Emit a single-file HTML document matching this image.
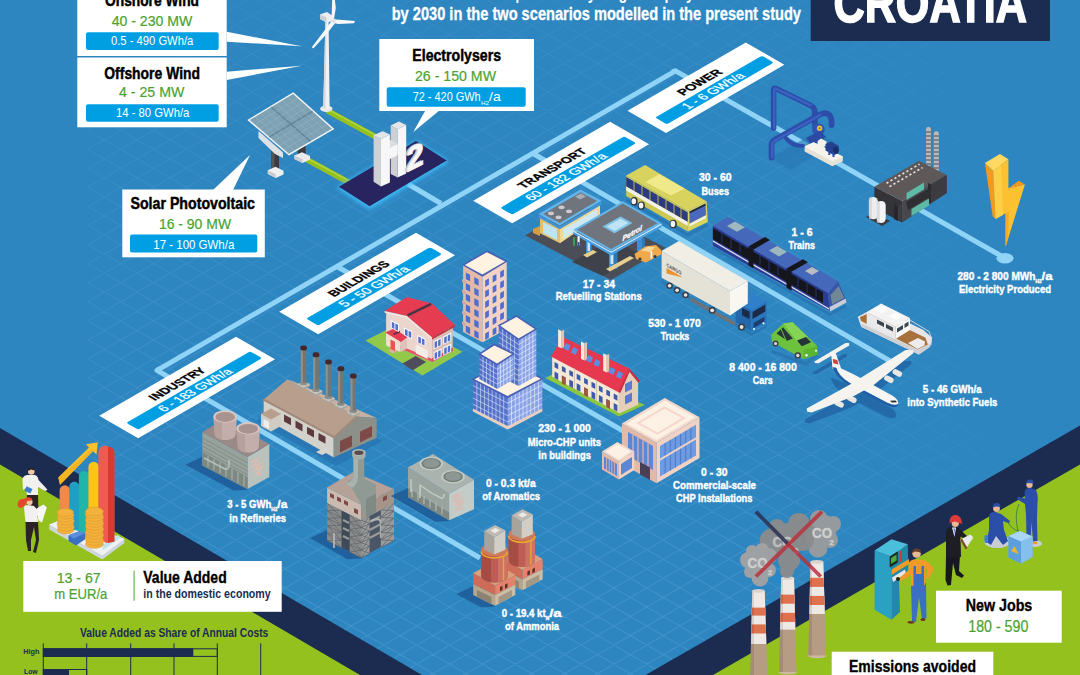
<!DOCTYPE html>
<html><head><meta charset="utf-8"><title>Hydrogen Croatia</title>
<style>
html,body{margin:0;padding:0;background:#2e86c1;}
body{width:1080px;height:675px;overflow:hidden;}
svg{display:block;font-family:"Liberation Sans",sans-serif;}
.b{font-weight:bold}
.w{fill:#fff}
.g{fill:#4aa32e;stroke:#4aa32e;stroke-width:.2px}
.pipe{fill:none;stroke:#8fd3f7;stroke-width:5;stroke-linejoin:round;stroke-linecap:butt}
</style></head><body>
<svg width="1080" height="675" viewBox="0 0 1080 675">
<!-- 00_bg.svg -->
<rect width="1080" height="675" fill="#2e86c1"/>
<defs>
<linearGradient id="gv" x1="0" y1="0" x2="0" y2="1"><stop offset="0" stop-color="#fff" stop-opacity="0.05"/><stop offset="0.37" stop-color="#fff" stop-opacity="0.095"/><stop offset="0.67" stop-color="#fff" stop-opacity="0.125"/><stop offset="1" stop-color="#fff" stop-opacity="0.145"/></linearGradient>
<linearGradient id="gh" x1="0" y1="0" x2="1" y2="0"><stop offset="0" stop-color="#fff" stop-opacity="0.75"/><stop offset="0.08" stop-color="#fff" stop-opacity="1"/><stop offset="0.72" stop-color="#fff" stop-opacity="1"/><stop offset="0.88" stop-color="#fff" stop-opacity="0.55"/><stop offset="1" stop-color="#fff" stop-opacity="0.15"/></linearGradient>
<mask id="mv" maskUnits="userSpaceOnUse" x="0" y="0" width="1080" height="675"><rect x="0" y="0" width="1080" height="675" fill="url(#gv)"/></mask>
<mask id="mh" maskUnits="userSpaceOnUse" x="88" y="0" width="905" height="675"><rect x="88" y="0" width="905" height="675" fill="url(#gh)"/></mask>
</defs>
<g mask="url(#mv)"><g mask="url(#mh)"><path d="M88 -518.2L993 6.7M88 -499.1L993 25.8M88 -480.0L993 44.9M88 -460.9L993 64.0M88 -441.9L993 83.0M88 -422.8L993 102.1M88 -403.7L993 121.2M88 -384.7L993 140.2M88 -365.6L993 159.3M88 -346.5L993 178.4M88 -327.5L993 197.4M88 -308.4L993 216.5M88 -289.3L993 235.6M88 -270.2L993 254.7M88 -251.2L993 273.7M88 -232.1L993 292.8M88 -213.0L993 311.9M88 -194.0L993 330.9M88 -174.9L993 350.0M88 -155.8L993 369.1M88 -136.8L993 388.1M88 -117.7L993 407.2M88 -98.6L993 426.3M88 -79.5L993 445.4M88 -60.5L993 464.4M88 -41.4L993 483.5M88 -22.3L993 502.6M88 -3.3L993 521.6M88 15.8L993 540.7M88 34.9L993 559.8M88 53.9L993 578.8M88 73.0L993 597.9M88 92.1L993 617.0M88 111.2L993 636.1M88 130.2L993 655.1M88 149.3L993 674.2M88 168.4L993 693.3M88 187.4L993 712.3M88 206.5L993 731.4M88 225.6L993 750.5M88 244.6L993 769.5M88 263.7L993 788.6M88 282.8L993 807.7M88 301.9L993 826.8M88 320.9L993 845.8M88 340.0L993 864.9M88 359.1L993 884.0M88 378.1L993 903.0M88 397.2L993 922.1M88 416.3L993 941.2M88 435.3L993 960.2M88 454.4L993 979.3M88 473.5L993 998.4M88 492.6L993 1017.5M88 511.6L993 1036.5M88 530.7L993 1055.6M88 549.8L993 1074.7M88 568.8L993 1093.7M88 587.9L993 1112.8M88 607.0L993 1131.9M88 626.0L993 1150.9M88 645.1L993 1170.0M88 664.2L993 1189.1M88 15.7L993 -509.2M88 34.7L993 -490.1M88 53.8L993 -471.1M88 72.9L993 -452.0M88 92.0L993 -432.9M88 111.0L993 -413.9M88 130.1L993 -394.8M88 149.2L993 -375.7M88 168.2L993 -356.7M88 187.3L993 -337.6M88 206.4L993 -318.5M88 225.4L993 -299.5M88 244.5L993 -280.4M88 263.6L993 -261.3M88 282.7L993 -242.2M88 301.7L993 -223.2M88 320.8L993 -204.1M88 339.9L993 -185.0M88 358.9L993 -166.0M88 378.0L993 -146.9M88 397.1L993 -127.8M88 416.1L993 -108.8M88 435.2L993 -89.7M88 454.3L993 -70.6M88 473.4L993 -51.5M88 492.4L993 -32.5M88 511.5L993 -13.4M88 530.6L993 5.7M88 549.6L993 24.7M88 568.7L993 43.8M88 587.8L993 62.9M88 606.9L993 82.0M88 625.9L993 101.0M88 645.0L993 120.1M88 664.1L993 139.2M88 683.1L993 158.2M88 702.2L993 177.3M88 721.3L993 196.4M88 740.3L993 215.4M88 759.4L993 234.5M88 778.5L993 253.6M88 797.6L993 272.7M88 816.6L993 291.7M88 835.7L993 310.8M88 854.8L993 329.9M88 873.8L993 348.9M88 892.9L993 368.0M88 912.0L993 387.1M88 931.0L993 406.1M88 950.1L993 425.2M88 969.2L993 444.3M88 988.3L993 463.4M88 1007.3L993 482.4M88 1026.4L993 501.5M88 1045.5L993 520.6M88 1064.5L993 539.6M88 1083.6L993 558.7M88 1102.7L993 577.8M88 1121.7L993 596.8M88 1140.8L993 615.9M88 1159.9L993 635.0M88 1179.0L993 654.1M88 1198.0L993 673.1" stroke="#a9dcfb" stroke-width="1.15" fill="none"/></g></g>
<!-- bottom-left bands -->
<polygon points="0,428 422,675 0,675" fill="#1b2c50"/>
<polygon points="0,464.4 360,675 0,675" fill="#95c11f"/>
<!-- bottom-right bands -->
<polygon points="1080,425.6 645.5,675 1080,675" fill="#1b2c50"/>
<polygon points="1080,464.4 713,675 1080,675" fill="#95c11f"/>

<!-- 10_pipes.svg -->
<g class="pipe">
<!-- trunk -->
<path d="M675.5 70.8 L157 370.4"/>
<!-- power line -->
<path d="M672 72 L675.5 70.8 L1003 257"/>
<!-- industry line -->
<path d="M160 368.6 L157 370.4 L480 558"/>
<!-- transport branch -->
<path d="M533 153.5 L890 361"/>
<!-- buildings branch -->
<path d="M337 266.5 L625 432"/>
<!-- h2 connector -->
<path d="M408 184 L441 203.5"/>
</g>
<ellipse cx="1005" cy="258.3" rx="8.5" ry="5.2" fill="#8fd3f7"/>
<!-- green cables -->
<g fill="none" stroke-linecap="butt">
<path d="M327 110.5 L375 136.5" stroke="#95c11f" stroke-width="5.6"/>
<path d="M327.6 109.3 L375.6 135.3" stroke="#b9d840" stroke-width="1.2"/>
<path d="M304.5 158.3 L350 183" stroke="#95c11f" stroke-width="5.6"/>
<path d="M305.1 157.1 L350.6 181.8" stroke="#b9d840" stroke-width="1.2"/>
</g>
<!-- H2 platform -->
<defs><filter id="glow" x="-20%" y="-20%" width="140%" height="140%"><feGaussianBlur stdDeviation="2.2"/></filter></defs>
<polygon points="337,187.5 369.6,209.5 449,161.5 416,141" fill="#3fc4ff" opacity="0.9" filter="url(#glow)"/>
<polygon points="338.9,186.7 369.6,206.2 446.7,160.4 416,140.9" fill="#27245f"/>

<!-- 20_labels.svg -->
<defs>
<g id="lab">
<rect x="0" y="0" width="158" height="45" fill="#fff"/>
<rect x="8.6" y="22.6" width="143" height="13.8" rx="2.2" fill="#009fe3"/>
</g>
</defs>
<!-- POWER (shorter) -->
<g transform="matrix(0.866,-0.5,0.866,0.5,627.5,110.8)">
<rect x="0" y="0" width="136.6" height="44.5" fill="#fff"/>
<rect x="9.2" y="22.6" width="123.5" height="13.6" rx="2.2" fill="#009fe3"/>
<text class="b" stroke="#000" stroke-width="0.35" x="47" y="17.3" font-size="12.3" textLength="46.5" lengthAdjust="spacingAndGlyphs">POWER</text>
<text class="w" stroke="#fff" stroke-width="0.25" x="36" y="33.8" font-size="12.6" textLength="67" lengthAdjust="spacingAndGlyphs">1 - 6 GWh/a</text>
</g>
<g transform="matrix(0.866,-0.5,0.866,0.5,473.3,200.8)">
<use href="#lab"/>
<text class="b" stroke="#000" stroke-width="0.35" x="41" y="17.3" font-size="12.3" textLength="74" lengthAdjust="spacingAndGlyphs">TRANSPORT</text>
<text class="w" stroke="#fff" stroke-width="0.25" x="33" y="33.8" font-size="12.6" textLength="89" lengthAdjust="spacingAndGlyphs">60 - 182 GWh/a</text>
</g>
<g transform="matrix(0.866,-0.5,0.866,0.5,279.2,311.7)">
<use href="#lab"/>
<text class="b" stroke="#000" stroke-width="0.35" x="46" y="17.3" font-size="12.3" textLength="65.5" lengthAdjust="spacingAndGlyphs">BUILDINGS</text>
<text class="w" stroke="#fff" stroke-width="0.25" x="42" y="33.8" font-size="12.6" textLength="76" lengthAdjust="spacingAndGlyphs">5 - 50 GWh/a</text>
</g>
<g transform="matrix(0.866,-0.5,0.866,0.5,99.2,415.8)">
<use href="#lab"/>
<text class="b" stroke="#000" stroke-width="0.35" x="47" y="17.3" font-size="12.3" textLength="60" lengthAdjust="spacingAndGlyphs">INDUSTRY</text>
<text class="w" stroke="#fff" stroke-width="0.25" x="41" y="33.8" font-size="12.6" textLength="80.5" lengthAdjust="spacingAndGlyphs">6 - 183 GWh/a</text>
</g>

<!-- 30_boxes.svg -->
<!-- Onshore / Offshore boxes -->
<rect x="77.3" y="-2" width="149.4" height="58" fill="#fff"/>
<rect x="77.3" y="57.5" width="149.4" height="69.8" fill="#fff"/>
<polygon points="226.7,31.7 226.7,41.7 301.7,46.3" fill="#fff"/>
<polygon points="226.7,71.7 226.7,80 301.7,65.7" fill="#fff"/>
<rect x="86" y="32.3" width="132.7" height="17.7" rx="2" fill="#009fe3"/>
<rect x="86" y="104.3" width="132.7" height="17.4" rx="2" fill="#009fe3"/>
<text class="b" x="105" y="5.7" font-size="16.6" textLength="94" lengthAdjust="spacingAndGlyphs" stroke="#000" stroke-width="0.45">Onshore Wind</text>
<text class="g" x="111.7" y="26" font-size="15.4" textLength="80.6" lengthAdjust="spacingAndGlyphs">40 - 230 MW</text>
<text class="w" x="111" y="45.4" font-size="13.5" textLength="82.3" lengthAdjust="spacingAndGlyphs">0.5 - 490 GWh/a</text>
<text class="b" x="104.3" y="79" font-size="16.6" textLength="95.7" lengthAdjust="spacingAndGlyphs" stroke="#000" stroke-width="0.45">Offshore Wind</text>
<text class="g" x="119" y="97.3" font-size="15.4" textLength="65.3" lengthAdjust="spacingAndGlyphs">4 - 25 MW</text>
<text class="w" x="116" y="117.4" font-size="13.5" textLength="73.3" lengthAdjust="spacingAndGlyphs">14 - 80 GWh/a</text>
<!-- Solar PV box -->
<polygon points="213,190 233,190 250,155" fill="#fff"/>
<rect x="122.3" y="189.5" width="142.5" height="67.8" fill="#fff"/>
<rect x="130" y="234.4" width="127.3" height="18.2" rx="2" fill="#009fe3"/>
<text class="b" x="130.5" y="208.9" font-size="16.4" textLength="124.5" lengthAdjust="spacingAndGlyphs" stroke="#000" stroke-width="0.45">Solar Photovoltaic</text>
<text class="g" x="158.9" y="228.9" font-size="15.4" textLength="72.2" lengthAdjust="spacingAndGlyphs">16 - 90 MW</text>
<text class="w" x="153.3" y="248.9" font-size="13.5" textLength="81" lengthAdjust="spacingAndGlyphs">17 - 100 GWh/a</text>
<!-- Electrolysers box -->
<polygon points="425.6,110 440,110 413.3,132" fill="#fff"/>
<rect x="379.3" y="39" width="154.7" height="72" fill="#fff"/>
<rect x="386.7" y="87.3" width="139" height="19.4" rx="2" fill="#009fe3"/>
<text class="b" x="412.3" y="61" font-size="16.4" textLength="88.7" lengthAdjust="spacingAndGlyphs" stroke="#000" stroke-width="0.45">Electrolysers</text>
<text class="g" x="415" y="80.7" font-size="15.4" textLength="81" lengthAdjust="spacingAndGlyphs">26 - 150 MW</text>
<text class="w" x="412.7" y="101" font-size="13.5" textLength="68" lengthAdjust="spacingAndGlyphs">72 - 420 GWh</text>
<text class="w" x="481" y="104.5" font-size="6" textLength="8" lengthAdjust="spacingAndGlyphs">H2</text>
<text class="w" x="489" y="101" font-size="13.5" textLength="11.7" lengthAdjust="spacingAndGlyphs">/a</text>
<!-- Title -->
<text class="w b" x="391.7" y="20" font-size="17.6" stroke="#fff" stroke-width="0.3" textLength="409.3" lengthAdjust="spacingAndGlyphs">by 2030 in the two scenarios modelled in the present study</text>
<!-- CROATIA -->
<rect x="810.7" y="-2" width="239.3" height="43" fill="#1b2c50"/>
<text class="w b" x="833.5" y="21.9" font-size="55" stroke="#fff" stroke-width="1.6" textLength="193.5" lengthAdjust="spacingAndGlyphs">CROATIA</text>
<!-- cut-off first title line (descenders only) -->
<text class="w b" x="579" y="-0.7" font-size="17.6" textLength="149" lengthAdjust="spacingAndGlyphs">hydrogen deployment</text>
<text class="w b" x="515.5" y="-0.7" font-size="17.6" textLength="8" lengthAdjust="spacingAndGlyphs">p</text>

<!-- 40_energy.svg -->
<!-- wind turbine -->
<g>
<ellipse cx="326.3" cy="108.8" rx="6.2" ry="3.2" fill="#e9eaec"/>
<polygon points="323.2,108.5 329.6,108.5 328.6,22 325.4,22" fill="#f1f2f3"/>
<polygon points="323.2,108.5 325.4,108.8 326.6,22 325.4,22" fill="#d5d9de"/>
<polygon points="320,14.5 327,12 333.5,16.5 333.5,21 326.5,22.5 320,19" fill="#eceef0"/>
<polygon points="320,14.5 326.5,17.5 326.5,22.5 320,19" fill="#c9ced4"/>
<polygon points="334,19 335.8,8 334.8,-1 332.2,-1 331.6,17" fill="#f7f8f9"/>
<polygon points="334,19.3 340,19.8 355,21 354,23.3 338,24 334,23" fill="#f7f8f9"/>
<polygon points="331.5,21 335,23.3 327,33.5 313.3,48.5 311.8,47.3 324.5,30.5" fill="#f7f8f9"/>
<circle cx="333.8" cy="20.6" r="2.1" fill="#dfe2e6"/>
</g>
<!-- solar panel -->
<g>
<!-- rear post & base -->
<polygon points="297.8,146 305.6,146 305.6,155 297.8,155" fill="#3b3b3f"/>
<polygon points="294.4,155.5 302,152.2 310,156 310,159.5 302.5,163 294.4,159" fill="#e9eaec"/>
<polygon points="294.4,155.5 302.5,159.3 302.5,163 294.4,159" fill="#c9cdd2"/>
<!-- front post & base -->
<polygon points="271.3,146 279,149 279,170 271.3,170" fill="#3b3b3f"/>
<polygon points="271.3,146 274.5,147.2 274.5,170 271.3,170" fill="#55565b"/>
<polygon points="267.8,170.2 275.5,166.8 283.5,170.8 283.5,174.5 275.8,178 267.8,174" fill="#eeeff1"/>
<polygon points="267.8,170.2 275.8,174.3 275.8,178 267.8,174" fill="#c9cdd2"/>
<!-- mount -->
<polygon points="258.5,131 283,152.5 283,158 275,154 258.5,138" fill="#dfe1e4"/>
<!-- panel -->
<polygon points="247.3,120 293.3,92.2 334.4,128.9 288.9,155.6" fill="#f4f6f7"/>
<polygon points="249.6,120.1 293.1,94 332,128.8 288.9,153.7" fill="#7ea2b3"/>
<g stroke="#5f8597" stroke-width="1.3" fill="none">
<path d="M271.3,107 L310.4,141.3"/><path d="M269.3,137 L312.5,111.4"/>
</g>
<g stroke="#9dbccb" stroke-width="0.5" fill="none" opacity="0.8">
<path d="M260.4,113.5 L299.6,147.5M282.2,100.5 L321.2,135"/>
<path d="M259.4,128.6 L302.8,102.7M279.1,145.4 L322.2,120.1"/>
<path d="M255,116.8 L294.2,150.9M265.8,110.2 L305,144.4M276.7,103.8 L315.8,138.1M287.6,97.2 L326.6,131.9"/>
<path d="M254.5,124.4 L298,98.4M264.3,132.8 L307.6,107M274.2,141.2 L317.4,115.8M284,149.6 L327.1,124.4"/>
</g>
</g>
<!-- H2 letters -->
<g>
<!-- right pillar -->
<polygon points="390.7,125.5 397.6,129.2 397.6,177.6 390.7,174" fill="#cfd0d3"/>
<polygon points="397.6,129.2 406.2,125 406.2,173.6 397.6,177.6" fill="#f7f7f8"/>
<polygon points="390.7,125.5 398.9,121.4 406.2,125 397.6,129.2" fill="#e4e5e7"/>
<!-- crossbar -->
<polygon points="383,151 390.5,147.3 397.6,143.9 397.6,155.3 389.9,158.9" fill="#f7f7f8"/>
<polygon points="382,144 390.7,140 397.6,143.9 389.9,147.5" fill="#dcdde0"/>
<!-- left pillar -->
<polygon points="373.6,135.3 381,139 381,186.6 373.6,181.7" fill="#cfd0d3"/>
<polygon points="381,139 389.9,134.4 389.9,182.5 381,186.6" fill="#f7f7f8"/>
<polygon points="373.6,135.3 382.6,131.2 389.9,134.4 381,139" fill="#e4e5e7"/>
<!-- 2 -->
<g transform="matrix(1,-0.5,0,1,404.6,172.6)">
<text x="0" y="0" font-size="33" font-weight="bold" fill="#c9cacd" stroke="#c9cacd" stroke-width="0.8" textLength="17.5" lengthAdjust="spacingAndGlyphs">2</text>
</g>
<g transform="matrix(1,-0.5,0,1,406.4,172.6)">
<text x="0" y="0" font-size="33" font-weight="bold" fill="#f7f7f8" stroke="#f7f7f8" stroke-width="0.8" textLength="17.5" lengthAdjust="spacingAndGlyphs">2</text>
</g>
</g>

<!-- 50_power.svg -->
<!-- blue pump -->
<g>
<!-- shadows -->
<polygon points="770,158 790,170 836,143 816,132" fill="#2776b0" opacity="0.6"/>
<g fill="none" stroke-linejoin="round" stroke-linecap="round">
<path d="M773.6 128 L773.6 90 Q773.6 87.5 776 88.6 L811 105.8 Q814.5 107.6 814.7 111 L815 126" stroke="#2c4da8" stroke-width="5.6"/>
<path d="M774.2 128 L774.2 90 Q774.2 88 776.4 88.8 L811 105.3" stroke="#3b62c2" stroke-width="2.4"/>
<path d="M771.5 157.5 L771.5 145 Q771.5 141.8 774.5 140 L820 114.5 Q826 111.5 829.5 115 Q831.8 117.5 831.6 125" stroke="#2c4da8" stroke-width="5.8"/>
<path d="M772.2 157 L772.2 145 Q772.2 142.4 775 140.6 L820 115" stroke="#3b62c2" stroke-width="2.4"/>
<path d="M786 138 Q791 146 803 146" stroke="#2c4da8" stroke-width="4.2"/>
</g>
<circle cx="818.4" cy="129.5" r="6.3" fill="#2f54b0"/>
<circle cx="819.6" cy="128.2" r="2.7" fill="#e2c04a"/>
<circle cx="819.6" cy="128.2" r="1" fill="#8a7428"/>
<polygon points="806,138 820,131 826,137 812,146" fill="#2a4aa3"/>
<!-- base slab -->
<polygon points="804.6,146.6 813.6,142.3 842.9,156.4 842.9,161.3 832.3,166.2 804.6,151.5" fill="#e7e2d8"/>
<polygon points="804.6,146.6 813.6,142.3 842.9,156.4 832.3,161.3" fill="#f6f3ec"/>
<!-- shaft & motor -->
<polygon points="817.6,141 821,138.6 826.5,141.4 826.5,145.4 823,147.2 817.6,144.4" fill="#f3f1ea"/>
<polygon points="825.5,144 831,141.5 838.8,146 838.8,152.5 834,155.3 825.5,150.6" fill="#24418f"/>
<ellipse cx="835.8" cy="150.3" rx="2.7" ry="3.6" fill="#1b2f6b"/>
<rect x="828.3" y="150" width="2" height="5" fill="#2a4aa3"/>
<rect x="832.5" y="152" width="2" height="5" fill="#2a4aa3"/>
</g>
<!-- power plant -->
<g>
<polygon points="866,217 874,212.5 890,221 882,226" fill="#3b3b40"/>
<!-- chimneys -->
<rect x="926" y="127" width="5" height="39" rx="2.2" fill="#b9b9bc"/>
<rect x="933.8" y="131.2" width="5" height="41.5" rx="2.2" fill="#b9b9bc"/>
<g stroke="#6f6f74" stroke-width="1.3">
<path d="M926 132h5M926 136h5M926 140h5M926 144h5M926 148h5M926 152h5M926 156h5M926 160h5M926 164h5"/>
<path d="M933.8 136h5M933.8 140h5M933.8 144h5M933.8 148h5M933.8 152h5M933.8 156h5M933.8 160h5M933.8 164h5M933.8 168h5"/>
</g>
<!-- body -->
<polygon points="874.4,186.7 902.2,201.1 902.2,222.5 874.4,208" fill="#343438"/>
<polygon points="902.2,201.1 946.7,175.1 946.7,193 902.2,222.5" fill="#47474c"/>
<polygon points="874.4,186.7 918.9,160.7 946.7,175.1 902.2,201.1" fill="#5e5859"/>
<!-- right block -->
<polygon points="931,184.3 946.7,175.1 946.7,193 931,203" fill="#3b3b40"/>
<polygon points="928,183 931,184.5 931,203.5 928,202" fill="#2b2b2f"/>
<!-- pillars -->
<polygon points="894,204 898,206 898,221 894,219" fill="#27272b"/>
<polygon points="898,206 901.5,204 901.5,219.5 898,221" fill="#3e3e43"/>
<!-- teal windows -->
<polygon points="906.5,193 924,182.5 924,189.5 906.5,200" fill="#5fb9a7"/>
<polygon points="911.5,209 929,198.5 929,205.5 911.5,216" fill="#5fb9a7"/>
<polygon points="906,202 929,188.5 931,190 931,196 908,210" fill="#2f2f33"/>
<!-- roof marks -->
<g stroke="#e9e6e4" stroke-width="1.6" stroke-dasharray="2.2 2.4" fill="none">
<path d="M886.5 183.2 L919.5 164.2"/>
<path d="M889.5 186.6 L922.5 167.6"/>
</g>
<!-- tanks -->
<rect x="868.9" y="197" width="9" height="22.3" rx="4.4" fill="#ecedee"/>
<rect x="868.9" y="197" width="3" height="22.3" rx="1.5" fill="#cfd1d4" opacity="0.7"/>
<rect x="876.7" y="201" width="9" height="22" rx="4.4" fill="#f3f4f5"/>
<rect x="876.7" y="201" width="3" height="22" rx="1.5" fill="#cfd1d4" opacity="0.7"/>
</g>
<!-- lightning -->
<g>
<polygon points="984.9,162.9 993.3,171.1 995.6,218.9 992.7,216.2" fill="#f39a1e"/>
<polygon points="984.9,162.9 1000,154 1008.4,159.3 993.3,171.1" fill="#ffd960"/>
<polygon points="993.3,171.1 1008.4,159.3 1008.4,188.2 1024.9,184.4 1005.6,246.7 1005.6,213.3 995.6,218.9" fill="#fbc130"/>
<polygon points="1008.4,188.2 1018.9,180.7 1024.9,184.4" fill="#f39a1e"/>
<polygon points="993.3,171.1 1001,165.1 1003,215 995.6,218.9" fill="#fdd24f" opacity="0.8"/>
<polygon points="1005.6,213.3 1009,211.5 1008,238 1005.6,246.7" fill="#f7ab25"/>
</g>

<!-- 60_transport.svg -->
<!-- fuel station -->
<g>
<polygon points="525.1,235.6 579.7,203.4 665.6,247.8 611,280" fill="#4b4e57"/>
<polygon points="572,262 611,239 640,254 603,276" fill="#3f424a"/>
<!-- crates -->
<polygon points="533,229 540,226 540,236 533,233" fill="#d69a4a"/>
<!-- shop -->
<polygon points="540,216.7 560,226.7 560,243.3 540,233.3" fill="#e5bd6e"/>
<polygon points="560,226.7 600,203.3 600,216 560,243.3" fill="#f2d692"/>
<polygon points="543,222 557,229 557,240 543,233" fill="#bfe3ef"/>
<polygon points="563,229.5 597,209.5 597,216 563,239.5" fill="#cfe9f2"/>
<polygon points="538.5,213.9 580.5,189.4 601.8,200.8 559.8,225.8" fill="#62b6ec"/>
<polygon points="538.5,214.4 559.8,226.3 601.8,201.6 601.8,204.4 559.8,229.3 538.5,217.4" fill="#3f95d6"/>
<polygon points="543.2,214 580.6,192.2 597,200.9 559.8,222.9" fill="#70757d"/>
<g fill="#c9ccd2">
<ellipse cx="551" cy="213.3" rx="3" ry="1.9"/><ellipse cx="558.5" cy="217.3" rx="3" ry="1.9"/>
<ellipse cx="561.5" cy="207.3" rx="3" ry="1.9"/><ellipse cx="569" cy="211.3" rx="3" ry="1.9"/>
</g>
<polygon points="575,196.5 581,193.5 586,196.5 580,199.5" fill="#a9adb4"/>
<!-- canopy pillars -->
<g>
<rect x="586" y="238" width="5.5" height="17" fill="#3f8fd0"/><rect x="587.5" y="242" width="2.5" height="9" fill="#cde6f5"/>
<rect x="609" y="251" width="6" height="18" fill="#3f8fd0"/><rect x="614" y="251" width="3.5" height="18" fill="#2f78b8"/><rect x="610.5" y="255" width="2.8" height="9" fill="#cde6f5"/>
<rect x="637" y="238" width="5.5" height="13" fill="#3f8fd0"/><rect x="642" y="238" width="3" height="13" fill="#2f78b8"/>
<polygon points="583,255 593,250 597,252 587,257.5" fill="#e9cf8e"/>
<polygon points="606,269 630,256 634,258 610,271.5" fill="#e9cf8e"/>
</g>
<!-- canopy -->
<polygon points="573.3,230.6 611.1,251.7 661.5,223.8 661.5,227.3 611.1,255.5 573.3,234" fill="#4a9fdf"/><polygon points="573.3,230.4 611.1,251.4 661.5,223.5 661.5,224.8 611.1,252.8 573.3,231.7" fill="#d9eefb"/>
<polygon points="573.3,229.8 622.8,201.3 661.5,223.3 611.1,251.3" fill="#62b6ec"/>
<polygon points="577.3,229.8 622.8,203.6 657.5,223.3 611.2,249" fill="#70757d"/>
<polygon points="602.5,226.5 620.5,216.5 632.5,223 614.5,233.3" fill="#7fc4ea"/>
<polygon points="606.5,226.6 620.5,218.8 628.5,223 614.5,231" fill="#bfe3f5"/>
<g transform="matrix(0.866,-0.5,0,1,622.5,241.3)"><text x="0" y="0" font-size="7.4" font-weight="bold" font-style="italic" fill="#fff" stroke="#fff" stroke-width="0.3" textLength="22.5" lengthAdjust="spacingAndGlyphs">Petrol</text></g>
<!-- taxi -->
<polygon points="634.5,254 645,246.5 656,245 661,250 661,254.5 646,262.5 636,259" fill="#f0a94b"/>
<polygon points="641,250.5 648,246.5 655.5,247 650,252" fill="#f8d79a"/>
<circle cx="640" cy="259" r="1.6" fill="#3b3b40"/><circle cx="655" cy="256.5" r="1.6" fill="#3b3b40"/>
<!-- people -->
<rect x="573" y="237" width="2" height="9" rx="1" fill="#3f9d57"/><rect x="577.5" y="236" width="2.2" height="10" rx="1" fill="#f4f4f4"/><rect x="577.7" y="242" width="1.8" height="5" fill="#2b4f9a"/>
<rect x="650.5" y="251" width="1.8" height="8" rx="0.9" fill="#f4f4f4"/>
</g>
<!-- bus -->
<g>
<polygon points="626.2,198 687.8,233.6 707.8,223 707.8,226 688,236.5 626.2,201" fill="#2770ad" opacity="0.7"/>
<polygon points="626.2,175.6 687.8,211.1 687.8,231.6 626.2,196" fill="#cdc852"/>
<polygon points="626.2,177 687.8,212.5 687.8,222 626.2,186.5" fill="#2b3b7d"/>
<polygon points="626.2,186.5 687.8,222 687.8,226 626.2,190.5" fill="#f1f1ea"/>
<g stroke="#cdc852" stroke-width="0.9"><path d="M634 181v10M642 185.6v10M650 190.2v10M658 194.8v10M666 199.4v10M674 204v10M681 208v10"/></g>
<polygon points="687.8,211.1 706.7,201.6 707.8,222 687.8,231.6" fill="#d9d460"/>
<polygon points="689.5,212.8 705.5,204.8 706,215 689.5,223.5" fill="#4a68bd"/><polygon points="689.5,211.5 705.5,203.5 705.6,205.5 689.5,213.6" fill="#1f2340"/>
<polygon points="689.5,224 706,215.5 706,218 689.5,226.6" fill="#f1f1ea"/>
<polygon points="626.2,175.6 645.1,165.1 706.7,201.6 687.8,211.1" fill="#d8d35e"/>
<polygon points="645.5,181.9 659.1,174.2 684.6,188.4 670.9,195.6" fill="#efe98a"/>
<ellipse cx="634.2" cy="201.3" rx="3.4" ry="4.2" fill="#30313a"/><ellipse cx="633.8" cy="201.2" rx="2.3" ry="3" fill="#f4f4f4"/>
<ellipse cx="641.5" cy="205.6" rx="3.4" ry="4.2" fill="#30313a"/><ellipse cx="641.1" cy="205.5" rx="2.3" ry="3" fill="#f4f4f4"/>
<ellipse cx="673.3" cy="224" rx="3.5" ry="4.3" fill="#30313a"/><ellipse cx="672.9" cy="223.9" rx="2.4" ry="3.1" fill="#f4f4f4"/>
</g>
<!-- train -->
<g>
<polygon points="712.9,246 830,313 846,304.5 846,307 830,316 712.9,249" fill="#2770ad" opacity="0.7"/>
<polygon points="712.9,225.6 827.8,292.7 830,311 712.9,245.6" fill="#2c3c94"/>
<polygon points="712.9,228 823,292.3 823,303 712.9,239" fill="#15161c"/>
<polygon points="712.9,240.3 829,308.3 829,309.8 712.9,241.8" fill="#d9dde8"/>
<polygon points="827.8,292.7 838,281.3 846.5,301 830,311" fill="#3a55a8"/>
<polygon points="830.5,295 838.8,286 844.2,298 832,304.5" fill="#6f8796"/>
<polygon points="829.5,307 845.5,298.5 846.5,302.5 830,311.5" fill="#c9ccd6"/>
<polygon points="712.9,225.6 727.8,216.7 838,281.3 827.8,292.7" fill="#4668bb"/>
<polygon points="748.5,246.4 765,237 770,240 753.5,249.5" fill="#15161c"/>
<polygon points="748.5,246.4 753.5,249.5 753.5,268.5 748.5,265.5" fill="#15161c"/>
<polygon points="786.5,268.6 803,259.2 808,262.2 791.5,271.7" fill="#15161c"/>
<polygon points="786.5,268.6 791.5,271.7 791.5,290.7 786.5,287.7" fill="#15161c"/>
<polygon points="727,226 735,221.5 745,227.2 737,231.8" fill="#9db9bf"/>
<polygon points="769,250.6 777,246.1 787,251.8 779,256.4" fill="#9db9bf"/>
<polygon points="805,271 812,267 819,271 812,275" fill="#b9bcc2"/>
<g stroke="#27377c" stroke-width="0.9"><path d="M722 232v11M731 237.5v11M740 242.5v11M760 254v11M769 259.5v11M778 264.5v11M798 276.5v11M807 281.5v11M816 287v11"/></g>
</g>
<!-- truck -->
<g>
<polygon points="661.6,280 752,333 767,325 767,327.5 752,336 661.6,283" fill="#2770ad" opacity="0.7"/>
<polygon points="690,297 735,322 735,326 690,301" fill="#6f7278"/>
<polygon points="735.6,302.2 751.1,310 751.1,331.1 735.6,322" fill="#2467ab"/>
<polygon points="751.1,310 766.7,301.1 766.7,322.2 751.1,331.1" fill="#2a76bd"/>
<polygon points="735.6,302.2 751.1,293.3 766.7,301.1 751.1,310" fill="#2f80c9"/>
<polygon points="752.5,312 765.3,304.6 765.3,311.5 752.5,319" fill="#1b2b45"/>
<polygon points="742,308 749.5,311.8 749.5,319 742,315.2" fill="#1b2b45"/>
<polygon points="753.5,323 764.5,316.7 764.5,321.5 753.5,328" fill="#1e3f6e"/>
<polygon points="661.6,251.1 730,291.1 730,315.6 661.6,277.8" fill="#e4e2d7"/>
<polygon points="730,291.1 747.8,281.1 747.8,303.5 730,315.6" fill="#f8f7f1"/>
<polygon points="661.6,251.1 678.9,241.1 747.8,281.1 730,291.1" fill="#f0eee5"/>
<g transform="matrix(0.866,0.5,0,1,666.5,266.5)"><text x="0" y="0" font-size="5.2" font-weight="bold" fill="#4a4a4e" textLength="17" lengthAdjust="spacingAndGlyphs">CARGO</text><polygon points="0,1.5 19,1.5 0,7" fill="#e8912d"/></g>
<g fill="#3f4046"><circle cx="669.6" cy="285.8" r="3.3"/><circle cx="677.1" cy="290.2" r="3.3"/><circle cx="685.6" cy="295" r="3.3"/><circle cx="712.2" cy="310.3" r="3.5"/><circle cx="741.6" cy="327" r="3.6"/></g>
<g fill="#e9e9e9"><circle cx="669.6" cy="285.8" r="1.8"/><circle cx="677.1" cy="290.2" r="1.8"/><circle cx="685.6" cy="295" r="1.8"/><circle cx="712.2" cy="310.3" r="1.9"/><circle cx="741.6" cy="327" r="1.9"/></g>
<circle cx="763.5" cy="323.3" r="1" fill="#fff"/><circle cx="754" cy="329" r="1" fill="#fff"/>
</g>
<!-- car -->
<g>
<polygon points="772,350 806,362 818,352 818,356 806,366 772,353" fill="#2770ad" opacity="0.7"/>
<polygon points="771.2,334.5 783.5,323.5 792.5,322.3 816.8,345.5 817.8,354.5 803.5,359 783,348 771.8,341.5" fill="#6cc13d"/>
<polygon points="783.5,323.5 792.5,322.3 808,337 797,341.5" fill="#86d455"/>
<polygon points="776.5,333.5 783,327.3 792.8,338.6 787.3,340.8" fill="#26343a"/><path d="M781.2 329 L785.8 340.2" stroke="#6cc13d" stroke-width="1"/>
<polygon points="797,340.5 806,337 811,342.3 801.8,346.2" fill="#26343a"/>
<polygon points="803.5,350 817.3,346 817.8,354.5 803.5,359" fill="#5cb531"/>
<circle cx="775.6" cy="343.5" r="3" fill="#3f4046"/><circle cx="775.6" cy="343.5" r="1.6" fill="#d9d9d9"/>
<circle cx="797.8" cy="355.5" r="3.2" fill="#3f4046"/><circle cx="797.8" cy="355.5" r="1.7" fill="#d9d9d9"/>
<circle cx="806.5" cy="355.3" r="1.2" fill="#fff"/><circle cx="816" cy="350.8" r="1" fill="#fff"/>
</g>
<!-- boat -->
<g>
<polygon points="857.8,316.7 876.7,306.7 923.3,330 932.2,337.8 930,346.7 918.9,354.4 861.1,326.7" fill="#e6e6e8"/>
<polygon points="861.1,326.7 918.9,354.4 930,346.7 929,343.5 918.5,350 861.5,323.5" fill="#cfd0d4"/>
<polygon points="859.8,317.3 872.2,311.5 925.5,337.8 927.8,344.4 917.8,349.5 861,321" fill="#a8713b"/>
<polygon points="908,343 918,338 925,341.5 924.5,345.5 917.5,349" fill="#ececee"/>
<polygon points="866.7,312.2 895.6,326.7 895.6,338.9 866.7,324.4" fill="#e9e9eb"/>
<polygon points="895.6,326.7 910,318 910,330 895.6,338.9" fill="#f7f7f8"/>
<polygon points="866.7,312.2 881.1,303.6 910,318 895.6,326.7" fill="#f3f3f4"/>
<polygon points="875,309.5 882,305.5 889,309 882,313" fill="#fdfdfd"/><polygon points="889,316.5 896,312.5 903,316 896,320" fill="#fdfdfd"/>
<polygon points="877,319.5 884,323 884,327 877,323.5" fill="#3a4650"/><polygon points="886,324 893,327.5 893,331.5 886,328" fill="#3a4650"/>
<polygon points="897,328.5 903,325 903,329 897,332.5" fill="#3a4650"/><polygon points="904.5,324 908.5,321.6 908.5,325.6 904.5,328" fill="#3a4650"/>
<path d="M910 320 L929 331.5 L931.5 338 L931 345" fill="none" stroke="#d9dadd" stroke-width="0.9"/>
</g>
<!-- plane -->
<g>
<g transform="translate(-2,11)" fill="#2368a7" opacity="0.9">
<polygon points="806.7,408.5 850,384.5 905.5,350 913,350 913.5,353 873,385.5 853,396.5 811.5,412.5 807,411.5"/>
<path d="M832.5 367 Q836 378 850 386 L887 405.5 Q895 409 898 405.5 Q899.5 401.5 893 397 L856 376.5 Q842 369.5 837.5 368 Z"/>
<polygon points="814.4,361.5 845.5,343 849,343 849.3,345.5 818.5,363.3 815,363"/>
</g>
<!-- tail stabilizer -->
<polygon points="814.4,361.5 845.5,343 849,343 849.3,345.5 818.5,363.3 815,363" fill="#f2f1ec"/>
<!-- fin -->
<polygon points="831,352 835.5,352.5 842.5,372.5 832.5,368.5" fill="#f6f5f1"/>
<polygon points="832.8,359 837.3,360 838.5,364.5 833.3,363.3" fill="#c8473f"/>
<!-- fuselage -->
<path d="M832.5 367 Q836 378 850 386 L887 405.5 Q895 409 898 405.5 Q899.5 401.5 893 397 L856 376.5 Q842 369.5 837.5 368 Z" fill="#1f5ea6"/>
<path d="M836 366.5 Q842 368.5 856 375.5 L893 396 Q899.5 400.5 898 404 Q894 406 887 402.5 L850 383 Q838 376 836 366.5 Z" fill="#f6f5f1"/>
<polygon points="890,400.8 895.5,400.5 897,402.2 892,402.6" fill="#1e2a30"/>
<!-- engines -->
<g fill="#e8e7e2"><rect x="834" y="401" width="10" height="5.5" rx="2.7" transform="rotate(28 839 404)"/><rect x="847" y="396.5" width="10" height="5.5" rx="2.7" transform="rotate(28 852 399)"/>
<rect x="884" y="376.5" width="10" height="5.5" rx="2.7" transform="rotate(28 889 379)"/><rect x="892.5" y="370" width="10" height="5.5" rx="2.7" transform="rotate(28 897 372.5)"/></g>
<!-- wing -->
<polygon points="806.7,408.5 850,384.5 905.5,350 913,350 913.5,353 873,385.5 853,396.5 811.5,412.5 807,411.5" fill="#f4f3ee"/>
</g>

<!-- 65_buildings.svg -->
<!-- house --><g>
<polygon points="365.4,340.6 404.5,321 462.4,351.7 422.4,375.4" fill="#93c94a"/>
<polygon points="402.4,363.5 415.7,356.1 426.1,362 412.8,370.2" fill="#4f4c5c"/>
<polygon points="388,350.5 394,347.3 399,350 393,353.5" fill="#d9b0a0"/>
<polygon points="386.1,312.4 406.9,316.9 432,337.6 432,362 386.1,342.8" fill="#ead6cc"/>
<polygon points="432,337.6 452.8,327.2 452.8,351 432,362" fill="#d9bdb3"/>
<polygon points="432,358.5 452.8,347.5 452.8,351 432,362" fill="#d8485a"/>
<polygon points="386.1,340 432,358.8 432,362 386.1,342.8" fill="#e0566a"/>
<polygon points="415.7,344.3 427.6,350.2 427.6,359 415.7,353.2" fill="#f4ece6"/>
<polygon points="384.6,310.9 406.9,296.9 432,303.5 455,325 432,337.6 406.9,316.1" fill="#e63c52"/>
<polygon points="384.6,310.9 406.9,316.1 432,337.6 432,339.4 406.5,318 384.6,312.8" fill="#f4e6de"/>
<polygon points="432,337.6 455,325 455,326.8 432,339.4" fill="#c9303f"/>
<path d="M407.6 315.3 L431.2 303.8" stroke="#4a3344" stroke-width="2.6"/>
<polygon points="386.1,333 400.5,340 400.5,352 386.1,345.5" fill="#f0ddd3"/>
<polygon points="400.5,340 407,337 407,348.5 400.5,352" fill="#dcc2b8"/>
<polygon points="385.4,332.4 393.5,328.7 407.6,336.9 400.9,342" fill="#e63c52"/>
<path d="M393.6 334.3 L400 331.6" stroke="#4a3344" stroke-width="1.6"/>
<polygon points="390.5,339.5 395,341.7 395,351 390.5,348.8" fill="#e8564f"/>
<polygon points="390.8,320.0 399.0,324.1 399.0,332.0 390.8,327.9" fill="#f9fbff"/>
<polygon points="391.8,321.7 394.4,323.0 394.4,329.0 391.8,327.7" fill="#5470c9"/>
<polygon points="395.4,323.5 398.0,324.8 398.0,330.8 395.4,329.5" fill="#5470c9"/>
<polygon points="404.0,327.3 412.2,331.4 412.2,339.3 404.0,335.2" fill="#f9fbff"/>
<polygon points="405.0,329.0 407.6,330.3 407.6,336.3 405.0,335.0" fill="#5470c9"/>
<polygon points="408.6,330.8 411.2,332.1 411.2,338.1 408.6,336.8" fill="#5470c9"/>
<polygon points="417.3,334.7 425.5,338.8 425.5,346.7 417.3,342.6" fill="#f9fbff"/>
<polygon points="418.3,336.4 420.9,337.7 420.9,343.7 418.3,342.4" fill="#5470c9"/>
<polygon points="421.9,338.2 424.5,339.5 424.5,345.5 421.9,344.2" fill="#5470c9"/>
<polygon points="433.6,341.3 441.6,337.3 441.6,345.5 433.6,349.5" fill="#f9fbff"/>
<polygon points="434.6,342.1 437.1,340.8 437.1,347.0 434.6,348.3" fill="#5470c9"/>
<polygon points="438.1,340.3 440.6,339.0 440.6,345.2 438.1,346.5" fill="#5470c9"/>
<polygon points="443.2,336.5 451.2,332.5 451.2,340.7 443.2,344.7" fill="#f9fbff"/>
<polygon points="444.2,337.3 446.7,336.0 446.7,342.2 444.2,343.5" fill="#5470c9"/>
<polygon points="447.7,335.5 450.2,334.2 450.2,340.4 447.7,341.7" fill="#5470c9"/>
<polygon points="433.6,352.3 441.6,348.3 441.6,356.5 433.6,360.5" fill="#f9fbff"/>
<polygon points="434.6,353.1 437.1,351.8 437.1,358.0 434.6,359.3" fill="#5470c9"/>
<polygon points="438.1,351.3 440.6,350.0 440.6,356.2 438.1,357.5" fill="#5470c9"/>
<polygon points="443.2,347.5 451.2,343.5 451.2,351.7 443.2,355.7" fill="#f9fbff"/>
<polygon points="444.2,348.3 446.7,347.0 446.7,353.2 444.2,354.5" fill="#5470c9"/>
<polygon points="447.7,346.5 450.2,345.2 450.2,351.4 447.7,352.7" fill="#5470c9"/>
</g>
<!-- apartment tower --><g>
<polygon points="463.1,265.2 482.4,275.6 482.4,342.2 463.1,331.9" fill="#e3b9a8"/>
<polygon points="482.4,275.6 506.7,261.3 506.7,329 482.4,342.2" fill="#f2d3c4"/>
<polygon points="462,264.8 486.9,250.2 507.8,261.3 482.4,276.8" fill="#4a5fb5"/>
<polygon points="464.8,265 486.9,252.2 505,261.4 482.4,274.6" fill="#fdf3e0"/>
<polygon points="465.8,272.5 470.1,274.8 470.1,281.2 465.8,278.9" fill="#4a6fd0"/>
<polygon points="465.8,283.1 470.1,285.4 470.1,291.8 465.8,289.5" fill="#4a6fd0"/>
<polygon points="465.8,293.7 470.1,296.0 470.1,302.4 465.8,300.1" fill="#4a6fd0"/>
<polygon points="465.8,304.3 470.1,306.6 470.1,313.0 465.8,310.7" fill="#4a6fd0"/>
<polygon points="465.8,314.9 470.1,317.2 470.1,323.6 465.8,321.3" fill="#4a6fd0"/>
<polygon points="465.8,325.5 470.1,327.8 470.1,334.2 465.8,331.9" fill="#4a6fd0"/>
<polygon points="474.3,277.1 478.6,279.4 478.6,285.8 474.3,283.5" fill="#4a6fd0"/>
<polygon points="474.3,287.7 478.6,290.0 478.6,296.4 474.3,294.1" fill="#4a6fd0"/>
<polygon points="474.3,298.3 478.6,300.6 478.6,307.0 474.3,304.7" fill="#4a6fd0"/>
<polygon points="474.3,308.9 478.6,311.2 478.6,317.6 474.3,315.3" fill="#4a6fd0"/>
<polygon points="474.3,319.5 478.6,321.8 478.6,328.2 474.3,325.9" fill="#4a6fd0"/>
<polygon points="474.3,330.1 478.6,332.4 478.6,338.8 474.3,336.5" fill="#4a6fd0"/>
<polygon points="485.2,280.5 488.9,278.3 488.9,284.7 485.2,286.9" fill="#4a6fd0"/>
<polygon points="485.2,291.1 488.9,288.9 488.9,295.3 485.2,297.5" fill="#4a6fd0"/>
<polygon points="485.2,301.7 488.9,299.5 488.9,305.9 485.2,308.1" fill="#4a6fd0"/>
<polygon points="485.2,312.3 488.9,310.1 488.9,316.5 485.2,318.7" fill="#4a6fd0"/>
<polygon points="485.2,322.9 488.9,320.7 488.9,327.1 485.2,329.3" fill="#4a6fd0"/>
<polygon points="485.2,333.5 488.9,331.3 488.9,337.7 485.2,339.9" fill="#4a6fd0"/>
<polygon points="492.7,276.1 496.4,273.9 496.4,280.3 492.7,282.5" fill="#4a6fd0"/>
<polygon points="492.7,286.7 496.4,284.5 496.4,290.9 492.7,293.1" fill="#4a6fd0"/>
<polygon points="492.7,297.3 496.4,295.1 496.4,301.5 492.7,303.7" fill="#4a6fd0"/>
<polygon points="492.7,307.9 496.4,305.7 496.4,312.1 492.7,314.3" fill="#4a6fd0"/>
<polygon points="492.7,318.5 496.4,316.3 496.4,322.7 492.7,324.9" fill="#4a6fd0"/>
<polygon points="492.7,329.1 496.4,326.9 496.4,333.3 492.7,335.5" fill="#4a6fd0"/>
<polygon points="500.2,271.7 503.9,269.5 503.9,275.9 500.2,278.1" fill="#4a6fd0"/>
<polygon points="500.2,282.3 503.9,280.1 503.9,286.5 500.2,288.7" fill="#4a6fd0"/>
<polygon points="500.2,292.9 503.9,290.7 503.9,297.1 500.2,299.3" fill="#4a6fd0"/>
<polygon points="500.2,303.5 503.9,301.3 503.9,307.7 500.2,309.9" fill="#4a6fd0"/>
<polygon points="500.2,314.1 503.9,311.9 503.9,318.3 500.2,320.5" fill="#4a6fd0"/>
<polygon points="500.2,324.7 503.9,322.5 503.9,328.9 500.2,331.1" fill="#4a6fd0"/>
<g fill="#d9a996"><polygon points="462,279.0 466,281.2 466,284.0 462,281.8"/><polygon points="462,289.6 466,291.8 466,294.6 462,292.4"/><polygon points="462,300.2 466,302.4 466,305.2 462,303.0"/><polygon points="462,310.8 466,313.0 466,315.8 462,313.6"/><polygon points="462,321.4 466,323.6 466,326.4 462,324.2"/></g>
</g>
<!-- glass towers --><g>
<polygon points="472.9,379.3 507.6,397 507.6,428.1 472.9,410.4" fill="#5470c9"/>
<polygon points="507.6,397 542.3,378.7 542.3,410.4 507.6,428.1" fill="#8aa2e6"/>
<path d="M476.8 381.3L476.8 412.4M480.6 383.2L480.6 414.3M484.5 385.2L484.5 416.3M488.3 387.2L488.3 418.3M492.2 389.1L492.2 420.2M496.0 391.1L496.0 422.2M499.9 393.1L499.9 424.2M503.7 395.0L503.7 426.1M472.9 385.5L507.6 403.2M472.9 391.7L507.6 409.4M472.9 398.0L507.6 415.7M472.9 404.2L507.6 421.9" stroke="#dfe8fb" stroke-width="0.7" fill="none" opacity="0.85"/>
<path d="M511.5 395.0L511.5 426.1M515.3 392.9L515.3 424.2M519.2 390.9L519.2 422.2M523.0 388.9L523.0 420.2M526.9 386.8L526.9 418.3M530.7 384.8L530.7 416.3M534.6 382.8L534.6 414.3M538.4 380.7L538.4 412.4M507.6 403.2L542.3 385.0M507.6 409.4L542.3 391.4M507.6 415.7L542.3 397.7M507.6 421.9L542.3 404.1" stroke="#f4f7ff" stroke-width="0.7" fill="none" opacity="0.85"/>
<polygon points="472.9,408.4 507.6,426.1 542.3,408.4 542.3,411.4 507.6,429.6 472.9,411.4" fill="#e9cfc0"/>
<polygon points="471.7,379.3 507.6,360 543.5,378.7 507.6,398.2" fill="#4a5fb5"/>
<polygon points="474.5,379.3 507.6,361.8 540.7,378.7 507.6,396" fill="#fdf3e0"/>
<polygon points="498.7,325.9 518.6,339.3 518.6,386 498.7,376" fill="#5470c9"/>
<polygon points="518.6,339.3 536.3,328.9 536.3,376 518.6,386" fill="#8aa2e6"/>
<path d="M502.7 328.6L502.7 378.0M506.7 331.3L506.7 380.0M510.6 333.9L510.6 382.0M514.6 336.6L514.6 384.0M498.7 331.5L518.6 344.5M498.7 337.0L518.6 349.7M498.7 342.6L518.6 354.9M498.7 348.2L518.6 360.1M498.7 353.7L518.6 365.2M498.7 359.3L518.6 370.4M498.7 364.9L518.6 375.6M498.7 370.4L518.6 380.8" stroke="#dfe8fb" stroke-width="0.7" fill="none" opacity="0.85"/>
<path d="M522.1 337.2L522.1 384.0M525.7 335.1L525.7 382.0M529.2 333.1L529.2 380.0M532.8 331.0L532.8 378.0M518.6 344.5L536.3 334.1M518.6 349.7L536.3 339.4M518.6 354.9L536.3 344.6M518.6 360.1L536.3 349.8M518.6 365.2L536.3 355.1M518.6 370.4L536.3 360.3M518.6 375.6L536.3 365.5M518.6 380.8L536.3 370.8" stroke="#f4f7ff" stroke-width="0.7" fill="none" opacity="0.85"/>
<polygon points="497.5,325.6 516.5,315 537.5,328.9 518.6,340.6" fill="#4a5fb5"/>
<polygon points="500.3,325.7 516.5,317 534.7,328.9 518.6,338.4" fill="#fdf3e0"/>
<polygon points="479.4,354.1 497.2,364.4 497.2,389 479.4,379" fill="#5470c9"/>
<polygon points="497.2,364.4 513.5,354.1 513.5,379.5 497.2,389" fill="#8aa2e6"/>
<path d="M483.0 356.2L483.0 381.0M486.5 358.2L486.5 383.0M490.1 360.3L490.1 385.0M493.6 362.3L493.6 387.0M479.4 359.1L497.2 369.3M479.4 364.1L497.2 374.2M479.4 369.0L497.2 379.2M479.4 374.0L497.2 384.1" stroke="#dfe8fb" stroke-width="0.7" fill="none" opacity="0.85"/>
<path d="M500.5 362.3L500.5 387.1M503.7 360.3L503.7 385.2M507.0 358.2L507.0 383.3M510.2 356.2L510.2 381.4M497.2 369.3L513.5 359.2M497.2 374.2L513.5 364.3M497.2 379.2L513.5 369.3M497.2 384.1L513.5 374.4" stroke="#f4f7ff" stroke-width="0.7" fill="none" opacity="0.85"/>
<polygon points="478.2,353.9 494.3,343.3 514.7,354.1 497.2,365.6" fill="#4a5fb5"/>
<polygon points="481,354 494.3,345.4 512,354.1 497.2,363.5" fill="#fdf3e0"/>
</g>
<!-- row houses --><g>
<polygon points="545.4,378.1 556.7,372.2 645,404.8 618.9,416.5" fill="#8dc63f"/>
<polygon points="552.2,356 618.9,391.5 618.9,412.8 552.2,376.7" fill="#f4e8d6"/>
<polygon points="618.9,391.5 629.3,369.3 638.1,381.1 638.1,404.8 618.9,413.7" fill="#e6cfba"/>
<polygon points="551,356.5 562.6,337 629.3,368.6 619.5,392.8" fill="#e63950"/>
<polygon points="629.3,368.6 640,381 638.1,382.5 629.5,372 620.3,393 618.5,391.5" fill="#c92f45"/>
<polygon points="558.1,329.3 561.7,330.9 561.7,348.3 558.1,346.7" fill="#f7ead9"/>
<polygon points="561.7,330.9 564.1,329.7 564.1,347.1 561.7,348.3" fill="#dcc7b2"/>
<polygon points="581.0,341.6 584.6,343.2 584.6,360.6 581.0,359.0" fill="#f7ead9"/>
<polygon points="584.6,343.2 587.0,342.0 587.0,359.4 584.6,360.6" fill="#dcc7b2"/>
<polygon points="603.2,353.4 606.8,355.0 606.8,372.4 603.2,370.8" fill="#f7ead9"/>
<polygon points="606.8,355.0 609.2,353.8 609.2,371.2 606.8,372.4" fill="#dcc7b2"/>
<polygon points="565.7,343.0 570.5,345.4 568.3,351.0 563.5,348.6" fill="#5c8fe0"/>
<polygon points="573.2,347.0 578.0,349.4 575.8,355.0 571.0,352.6" fill="#5c8fe0"/>
<polygon points="588.2,355.0 593.0,357.4 590.8,363.0 586.0,360.6" fill="#5c8fe0"/>
<polygon points="595.7,359.0 600.5,361.4 598.3,367.0 593.5,364.6" fill="#5c8fe0"/>
<polygon points="610.7,367.0 615.5,369.4 613.3,375.0 608.5,372.6" fill="#5c8fe0"/>
<polygon points="618.2,371.0 623.0,373.4 620.8,379.0 616.0,376.6" fill="#5c8fe0"/>
<path d="M574.4 367.8V388.6M596.6 379.6V400.5" stroke="#c9b9a4" stroke-width="0.8"/>
<polygon points="554.5,362.0 558.2,364.0 558.2,369.2 554.5,367.2" fill="#3e5aa8"/>
<polygon points="561.9,365.9 565.6,367.9 565.6,373.1 561.9,371.1" fill="#3e5aa8"/>
<polygon points="569.3,369.9 573.0,371.9 573.0,377.1 569.3,375.1" fill="#3e5aa8"/>
<polygon points="576.7,373.8 580.4,375.8 580.4,381.0 576.7,379.0" fill="#3e5aa8"/>
<polygon points="584.1,377.8 587.8,379.7 587.8,384.9 584.1,383.0" fill="#3e5aa8"/>
<polygon points="591.5,381.7 595.2,383.7 595.2,388.9 591.5,386.9" fill="#3e5aa8"/>
<polygon points="598.9,385.6 602.6,387.6 602.6,392.8 598.9,390.8" fill="#3e5aa8"/>
<polygon points="606.3,389.6 610.0,391.6 610.0,396.8 606.3,394.8" fill="#3e5aa8"/>
<polygon points="613.7,393.5 617.4,395.5 617.4,400.7 613.7,398.7" fill="#3e5aa8"/>
<polygon points="554.5,371.5 558.2,373.5 558.2,380.0 554.5,378.0" fill="#3e5aa8"/>
<polygon points="561.9,375.4 565.6,377.4 565.6,383.9 561.9,381.9" fill="#3e5aa8"/>
<polygon points="569.3,379.4 573.0,381.4 573.0,387.9 569.3,385.9" fill="#3e5aa8"/>
<polygon points="576.7,383.3 580.4,385.3 580.4,391.8 576.7,389.8" fill="#3e5aa8"/>
<polygon points="584.1,387.3 587.8,389.2 587.8,395.7 584.1,393.8" fill="#3e5aa8"/>
<polygon points="591.5,391.2 595.2,393.2 595.2,399.7 591.5,397.7" fill="#3e5aa8"/>
<polygon points="598.9,395.1 602.6,397.1 602.6,403.6 598.9,401.6" fill="#3e5aa8"/>
<polygon points="606.3,399.1 610.0,401.1 610.0,407.6 606.3,405.6" fill="#3e5aa8"/>
<polygon points="613.7,403.0 617.4,405.0 617.4,411.5 613.7,409.5" fill="#3e5aa8"/>
<polygon points="561.9,375.4 565.6,377.4 565.6,385.4 561.9,383.4" fill="#a2573b"/>
<polygon points="584.1,387.3 587.8,389.3 587.8,397.3 584.1,395.3" fill="#a2573b"/>
<polygon points="606.3,399.1 610.0,401.1 610.0,409.1 606.3,407.1" fill="#a2573b"/>
<polygon points="625,384 632,380.5 632,389 625,392.5" fill="#5c79d0"/><polygon points="625,396 632,392.5 632,401 625,404.5" fill="#5c79d0"/>
</g>
<!-- commercial --><g>
<polygon points="621.9,423.5 656.5,442.7 656.5,483.3 621.9,464" fill="#e3b9a8"/>
<polygon points="656.5,442.7 699.5,417.3 699.5,458.1 656.5,483.3" fill="#f1d2c3"/>
<polygon points="660,446 696,424.8 696,455.5 660,476.6" fill="#6d9ae0"/>
<path d="M665.1 443.0L665.1 473.6M670.3 439.9L670.3 470.6M675.4 436.9L675.4 467.6M680.6 433.9L680.6 464.5M685.7 430.9L685.7 461.5M690.9 427.8L690.9 458.5" stroke="#3f6fc0" stroke-width="0.9" fill="none" opacity="0.8"/>
<polygon points="660,458.5 696,437.3 696,439.5 660,460.7" fill="#f1d2c3"/>
<polygon points="628,432 653,446 653,470 628,456" fill="#5c86d6"/>
<path d="M633.0 434.8L633.0 458.8M638.0 437.6L638.0 461.6M643.0 440.4L643.0 464.4M648.0 443.2L648.0 467.2" stroke="#e3b9a8" stroke-width="1.2" fill="none" opacity="1"/>
<polygon points="621.9,423.5 664.8,398 699.5,417.3 656.5,442.7" fill="#f4d9cb"/>
<polygon points="626.5,423.5 664.8,400.7 695,417.3 656.5,440" fill="#fdf1e6"/>
<polygon points="636,423 664.5,406.3 686,418 657.5,434.7" fill="#f4d9cb"/>
<polygon points="640,423 664.5,408.8 682,418 657.5,432.4" fill="#fdf1e6"/>
<polygon points="602,451.6 618.9,461.7 618.9,479.5 602,469.5" fill="#e3b9a8"/>
<polygon points="618.9,461.7 634.3,451.6 634.3,470 618.9,479.5" fill="#f1d2c3"/>
<polygon points="604,456.5 617,464 617,476 604,468.5" fill="#5c86d6"/>
<path d="M606.6 458.0L606.6 470.0M609.2 459.5L609.2 471.5M611.8 461.0L611.8 473.0M614.4 462.5L614.4 474.5" stroke="#e3b9a8" stroke-width="0.8" fill="none" opacity="1"/>
<polygon points="621,464 632,457 632,468 621,475" fill="#5c86d6"/>
<polygon points="602,451.6 617.4,441.9 634.3,451.6 618.9,461.7" fill="#f4d9cb"/>
<polygon points="605.5,451.6 617.4,444 630.8,451.6 618.9,459.5" fill="#fdf1e6"/>
<polygon points="640,462 650,467.5 650,480 640,474.5" fill="#4a3f55"/>
</g>

<!-- 70_industry.svg -->
<!-- factory --><g>
<polygon points="256.0,421.0 264.0,417.0 334.0,457.0 377.0,438.0 382.0,441.0 336.0,466.0" fill="#2670ae" opacity="0.7"/>
<polygon points="263.7,399.4 333.7,437.0 333.7,457.5 263.7,418.0" fill="#d2d1ca"/>
<polygon points="333.7,437.0 356.5,416.5 376.7,418.4 376.7,437.7 333.7,457.5" fill="#8d9088"/>
<polygon points="340.0,441.0 372.0,426.0 372.0,436.5 340.0,452.5" fill="#7d4a48"/>
<polygon points="352.0,433.0 360.0,429.3 360.0,443.0 352.0,447.0" fill="#8d9088"/>
<polygon points="284.0,414.5 291.0,418.3 291.0,425.3 284.0,421.5" fill="#5c3a40"/>
<polygon points="295.5,420.6 302.5,424.4 302.5,431.4 295.5,427.6" fill="#5c3a40"/>
<polygon points="307.0,426.8 314.0,430.6 314.0,437.6 307.0,433.8" fill="#5c3a40"/>
<polygon points="318.5,432.9 325.5,436.8 325.5,443.8 318.5,439.9" fill="#5c3a40"/>
<polygon points="263.7,399.4 287.1,379.5 356.5,416.5 333.7,437.0" fill="#b89e8d"/>
<polygon points="287.1,379.5 292.7,381.2 376.7,417.9 356.5,416.5" fill="#c9b09f"/>
<polygon points="262.5,400.2 263.7,398.6 334.0,436.0 356.5,415.3 357.6,417.0 334.0,438.6" fill="#a38a7a"/>
<polygon points="261.0,414.0 271.0,408.5 281.0,414.0 281.0,426.0 271.0,431.5 261.0,426.0" fill="#cfccc4"/>
<polygon points="261.0,414.0 271.0,408.5 281.0,414.0 271.0,419.5" fill="#b89e8d"/>
<polygon points="263.5,419.0 269.0,422.0 269.0,429.0 263.5,426.0" fill="#efeeea"/>
<polygon points="316.0,452.0 324.0,448.0 330.0,451.0 322.0,455.0" fill="#d9d4cc"/>
<polygon points="297.1,384.2 303.6,380.9 310.1,384.2 310.1,386.2 303.6,389.5 297.1,386.2" fill="#a9a69f"/>
<polygon points="297.1,384.2 303.6,380.9 310.1,384.2 303.6,387.5" fill="#c9c6bf"/>
<ellipse cx="303.6" cy="383.2" rx="4" ry="2" fill="#8f8f8a"/>
<rect x="300.8" y="347.4" width="5.6" height="35.3" fill="#727773"/>
<rect x="300.8" y="347.4" width="2" height="35.3" fill="#8e938e"/>
<rect x="300.3" y="345.4" width="6.6" height="5" rx="2" fill="#46282c"/>
<polygon points="309.5,391.0 316.0,387.7 322.5,391.0 322.5,393.0 316.0,396.3 309.5,393.0" fill="#a9a69f"/>
<polygon points="309.5,391.0 316.0,387.7 322.5,391.0 316.0,394.3" fill="#c9c6bf"/>
<ellipse cx="316.0" cy="390.0" rx="4" ry="2" fill="#8f8f8a"/>
<rect x="313.2" y="354.3" width="5.6" height="35.2" fill="#727773"/>
<rect x="313.2" y="354.3" width="2" height="35.2" fill="#8e938e"/>
<rect x="312.7" y="352.3" width="6.6" height="5" rx="2" fill="#46282c"/>
<polygon points="322.0,398.2 328.5,394.9 335.0,398.2 335.0,400.2 328.5,403.5 322.0,400.2" fill="#a9a69f"/>
<polygon points="322.0,398.2 328.5,394.9 335.0,398.2 328.5,401.5" fill="#c9c6bf"/>
<ellipse cx="328.5" cy="397.2" rx="4" ry="2" fill="#8f8f8a"/>
<rect x="325.7" y="361.4" width="5.6" height="35.3" fill="#727773"/>
<rect x="325.7" y="361.4" width="2" height="35.3" fill="#8e938e"/>
<rect x="325.2" y="359.4" width="6.6" height="5" rx="2" fill="#46282c"/>
<polygon points="334.4,405.0 340.9,401.7 347.4,405.0 347.4,407.0 340.9,410.3 334.4,407.0" fill="#a9a69f"/>
<polygon points="334.4,405.0 340.9,401.7 347.4,405.0 340.9,408.3" fill="#c9c6bf"/>
<ellipse cx="340.9" cy="404.0" rx="4" ry="2" fill="#8f8f8a"/>
<rect x="338.1" y="368.3" width="5.6" height="35.2" fill="#727773"/>
<rect x="338.1" y="368.3" width="2" height="35.2" fill="#8e938e"/>
<rect x="337.6" y="366.3" width="6.6" height="5" rx="2" fill="#46282c"/>
<polygon points="346.8,412.2 353.3,408.9 359.8,412.2 359.8,414.2 353.3,417.5 346.8,414.2" fill="#a9a69f"/>
<polygon points="346.8,412.2 353.3,408.9 359.8,412.2 353.3,415.5" fill="#c9c6bf"/>
<ellipse cx="353.3" cy="411.2" rx="4" ry="2" fill="#8f8f8a"/>
<rect x="350.5" y="375.4" width="5.6" height="35.3" fill="#727773"/>
<rect x="350.5" y="375.4" width="2" height="35.3" fill="#8e938e"/>
<rect x="350.0" y="373.4" width="6.6" height="5" rx="2" fill="#46282c"/>
</g>
<!-- cooling 1 --><g>
<polygon points="202.4,456.5 185.4,464.7 233.6,490.6 248.6,489.8 202.4,465.5" fill="#1d5a96" opacity="0.85"/>
<polygon points="202.4,432.0 247.6,457.0 247.6,489.0 202.4,465.5" fill="#98a29c"/>
<polygon points="247.6,457.0 269.3,443.9 269.3,477.0 247.6,489.0" fill="#b9c2bc"/>
<polygon points="202.4,432.0 224.2,419.0 269.3,443.9 247.6,457.0" fill="#9a8985"/>
<path d="M202.4 438L247.6 463M202.4 442L247.6 467M202.4 446L247.6 471M202.4 450L247.6 475" stroke="#7f8a85" stroke-width="0.9" fill="none"/>
<polygon points="202.4,452.0 247.6,477.0 247.6,489.0 202.4,465.5" fill="#7d8883"/>
<path d="M208 456v11M214 459v11M220 462.3v11M226 465.5v11M232 468.8v11M238 472v11M244 475v11" stroke="#aab3ae" stroke-width="1.1"/>
<path d="M204 458 L225 469 Q229 470 229 465 L229 460" stroke="#b5beb9" stroke-width="1.6" fill="none"/>
<path d="M251 462l7 -3l-5 7l7 -3l-5 7l7 -3l-6 8l6 -2" stroke="#d9bcb4" stroke-width="2" fill="none"/>
<path d="M213.4 416.5 L214.7 434.5 A10.5 5.5 0 0 0 235.7 434.5 L237.0 416.5 Z" fill="#c4aeab"/>
<path d="M213.4 416.5 L214.7 434.5 A10.5 5.5 0 0 0 222.2 439.7 L221.7 416.5 Z" fill="#ad9795" opacity="0.6"/>
<ellipse cx="225.2" cy="416.5" rx="11.8" ry="6.2" fill="#d9c7c3"/>
<ellipse cx="225.2" cy="417.0" rx="9.8" ry="4.9" fill="#a99390"/>
<path d="M236.4 428.3 L237.7 447.0 A10.5 5.5 0 0 0 258.7 447.0 L260.0 428.3 Z" fill="#c4aeab"/>
<path d="M236.4 428.3 L237.7 447.0 A10.5 5.5 0 0 0 245.2 452.2 L244.7 428.3 Z" fill="#ad9795" opacity="0.6"/>
<ellipse cx="248.2" cy="428.3" rx="11.8" ry="6.2" fill="#d9c7c3"/>
<ellipse cx="248.2" cy="428.8" rx="9.8" ry="4.9" fill="#a99390"/>
</g>
<!-- refinery --><g>
<polygon points="327.1,529.9 310.1,538.1 347.3,559.2 362.3,558.4 327.1,538.9" fill="#1d5a96" opacity="0.85"/>
<polygon points="327.1,503.1 361.3,520.2 361.3,557.7 327.1,539.6" fill="#3f4a58"/>
<polygon points="361.3,520.2 394.0,503.1 394.0,539.6 361.3,557.7" fill="#4a5666"/>
<path d="M343 520 L349 523 M343 528 L349 531 M343 536 L349 539 M369.5 522 L380 516.6 M369.5 530 L380 524.6 M369.5 538 L380 532.6" stroke="#9a9a98" stroke-width="2.2" fill="none"/>
<path d="M371 521 Q381 516 381 524 L381 538" stroke="#b3b3b1" stroke-width="2.2" fill="none"/>
<polygon points="327.1,503.1 341.5,510.3 341.5,547.8 327.1,540.6" fill="#8b8b89"/>
<polygon points="349.7,514.4 361.3,520.2 361.3,557.7 349.7,551.9" fill="#8b8b89"/>
<polygon points="361.3,520.2 369.5,515.9 369.5,553.4 361.3,557.7" fill="#9b9b99"/>
<polygon points="380.9,509.9 394.0,503.1 394.0,540.6 380.9,547.4" fill="#9b9b99"/>
<path d="M327.1 503.1L341.5 517.8M341.5 510.3L327.1 510.6M327.1 510.6L341.5 517.8M327.1 510.6L341.5 525.3M341.5 517.8L327.1 518.1M327.1 518.1L341.5 525.3M327.1 518.1L341.5 532.8M341.5 525.3L327.1 525.6M327.1 525.6L341.5 532.8M327.1 525.6L341.5 540.3M341.5 532.8L327.1 533.1M327.1 533.1L341.5 540.3M327.1 533.1L341.5 547.8M341.5 540.3L327.1 540.6M327.1 540.6L341.5 547.8M349.7 514.4L361.3 527.7M361.3 520.2L349.7 521.9M349.7 521.9L361.3 527.7M349.7 521.9L361.3 535.2M361.3 527.7L349.7 529.4M349.7 529.4L361.3 535.2M349.7 529.4L361.3 542.7M361.3 535.2L349.7 536.9M349.7 536.9L361.3 542.7M349.7 536.9L361.3 550.2M361.3 542.7L349.7 544.4M349.7 544.4L361.3 550.2M349.7 544.4L361.3 557.7M361.3 550.2L349.7 551.9M349.7 551.9L361.3 557.7M361.3 520.2L369.5 523.4M369.5 515.9L361.3 527.7M361.3 527.7L369.5 523.4M361.3 527.7L369.5 530.9M369.5 523.4L361.3 535.2M361.3 535.2L369.5 530.9M361.3 535.2L369.5 538.4M369.5 530.9L361.3 542.7M361.3 542.7L369.5 538.4M361.3 542.7L369.5 545.9M369.5 538.4L361.3 550.2M361.3 550.2L369.5 545.9M361.3 550.2L369.5 553.4M369.5 545.9L361.3 557.7M361.3 557.7L369.5 553.4M380.9 509.9L394.0 510.6M394.0 503.1L380.9 517.4M380.9 517.4L394.0 510.6M380.9 517.4L394.0 518.1M394.0 510.6L380.9 524.9M380.9 524.9L394.0 518.1M380.9 524.9L394.0 525.6M394.0 518.1L380.9 532.4M380.9 532.4L394.0 525.6M380.9 532.4L394.0 533.1M394.0 525.6L380.9 539.9M380.9 539.9L394.0 533.1M380.9 539.9L394.0 540.6M394.0 533.1L380.9 547.4M380.9 547.4L394.0 540.6" stroke="#5d646c" stroke-width="0.8" fill="none" opacity="0.9"/>
<path d="M334 533 V548" stroke="#b3b3b1" stroke-width="1.8" fill="none"/>
<polygon points="327.1,487.6 361.3,504.7 361.3,520.2 327.1,503.1" fill="#cbbab0"/>
<polygon points="361.3,504.7 394.0,489.1 394.0,503.1 361.3,520.2" fill="#a39389"/>
<polygon points="327.1,487.6 353.6,472.0 394.0,489.1 361.3,504.7" fill="#b5a197"/>
<polygon points="348.0,481.0 358.0,475.5 376.0,484.5 376.0,512.0 366.0,517.5 361.3,504.7" fill="#8f9a95"/>
<polygon points="366.0,499.0 376.0,493.5 376.0,512.0 366.0,517.5" fill="#7f8a85"/>
<polygon points="330.0,493.0 334.0,495.0 334.0,499.0 330.0,497.0" fill="#7d4a48"/>
<polygon points="337.0,496.5 341.0,498.5 341.0,502.5 337.0,500.5" fill="#7d4a48"/>
<polygon points="344.0,500.0 348.0,502.0 348.0,506.0 344.0,504.0" fill="#7d4a48"/>
<polygon points="383.0,497.0 387.0,495.0 387.0,499.5 383.0,501.5" fill="#7d4a48"/>
<polygon points="354.0,508.0 358.0,510.0 358.0,514.5 354.0,512.5" fill="#7d4a48"/>
<path d="M346 484 Q352.5 481 353.5 476 L353.5 453 L364.2 453 L364.2 477 Q366 484 374 487 Q360 495 346 484Z" fill="#8f9a95"/>
<path d="M346 484 Q352.5 481 353.5 476 L353.5 453 L358 453 L358 478 Q357 485 352 488Z" fill="#a9b3ae"/>
<ellipse cx="358.9" cy="452.5" rx="6.8" ry="3.4" fill="#b3bcb7"/><ellipse cx="358.9" cy="452.7" rx="4.6" ry="2.2" fill="#5a4a4c"/>
<path d="M352.1 452.5 V456 A6.8 3.4 0 0 0 365.7 456 V452.5 A6.8 3.4 0 0 1 352.1 452.5Z" fill="#a3ada8"/>
</g>
<!-- cooling 2 --><g>
<polygon points="408.0,487.9 391.0,496.1 435.1,521.8 450.1,521.0 408.0,496.9" fill="#1d5a96" opacity="0.85"/>
<polygon points="408.0,467.3 449.1,493.8 449.1,520.2 408.0,496.9" fill="#9aa49e"/>
<polygon points="449.1,493.8 474.0,479.8 474.0,509.3 449.1,520.2" fill="#c4ccc7"/>
<polygon points="408.0,467.3 432.9,454.0 474.0,479.8 449.1,493.8" fill="#aab3ae"/>
<polygon points="408.0,488.0 449.1,512.5 449.1,520.2 408.0,496.9" fill="#7d8883"/>
<path d="M412 489v8M418 492.5v8M424 496v8M430 499.5v8M436 503v8M442 506.5v8" stroke="#b5beb9" stroke-width="1.1"/>
<path d="M411 479 L411 492 M420 484.5 L420 498 M420 485 Q430 493 441 498 Q444 499 444 494" stroke="#c1c9c4" stroke-width="1.6" fill="none"/>
<path d="M452 497l7 -3l-5 7l7 -3l-5 7l7 -3l-6 8l6 -2" stroke="#d9bcb4" stroke-width="2" fill="none"/>
<ellipse cx="431.3" cy="463.6" rx="11.8" ry="6.8" fill="#c3cbc6"/>
<ellipse cx="431.3" cy="463.6" rx="9.8" ry="5.5" fill="#6f7b77"/>
<ellipse cx="431.3" cy="463.3" rx="8.2" ry="4.4" fill="#8c9793"/>
<ellipse cx="453.1" cy="476.7" rx="11.8" ry="6.8" fill="#c3cbc6"/>
<ellipse cx="453.1" cy="476.7" rx="9.8" ry="5.5" fill="#6f7b77"/>
<ellipse cx="453.1" cy="476.4" rx="8.2" ry="4.4" fill="#8c9793"/>
</g>
<!-- ammonia -->
<polygon points="473.3,585.9 456.3,594.1 481.1,607.4 496.1,606.6 473.3,594.9" fill="#1d5a96" opacity="0.85"/>
<g transform="translate(27.4,-15.6)"><polygon points="473.3,584.0 495.1,594.9 495.1,605.8 473.3,594.9" fill="#b7a58c"/>
<polygon points="495.1,594.9 515.3,584.6 515.3,594.9 495.1,605.8" fill="#cdbda4"/>
<polygon points="477.0,590.0 491.5,597.0 491.5,604.0 477.0,597.0" fill="#8d8372"/>
<polygon points="498.5,597.0 512.0,590.0 512.0,596.5 498.5,604.0" fill="#a39884"/>
<polygon points="473.3,573.1 495.1,585.6 495.1,594.9 473.3,584.0" fill="#cf6c58"/>
<polygon points="495.1,585.6 515.3,574.7 515.3,584.6 495.1,594.9" fill="#e4826b"/>
<polygon points="473.3,573.1 493.6,562.2 515.3,574.7 495.1,585.6" fill="#d9a07a"/>
<polygon points="500.0,587.0 502.5,585.7 502.5,590.0 500.0,591.3" fill="#5a2f2a"/>
<polygon points="505.0,584.5 507.5,583.2 507.5,587.5 505.0,588.8" fill="#5a2f2a"/>
<path d="M481.2 549.8 L481.2 576.2 A13.2 6.5 0 0 0 507.6 576.2 L507.6 549.8 Z" fill="#bd5d54"/>
<path d="M481.2 549.8 L481.2 576.2 A13.2 6.5 0 0 0 491 582.2 L491 549.8 Z" fill="#a54c45"/>
<path d="M498 549.8 L498 582.4 A13.2 6.5 0 0 0 507.6 576.2 L507.6 549.8 Z" fill="#cf7266"/>
<ellipse cx="494.4" cy="549.8" rx="13.2" ry="6.5" fill="#cf7a5a"/>
<path d="M481.2 551.5 A13.2 6.5 0 0 0 507.6 551.5" stroke="#e8a82b" stroke-width="1.6" fill="none"/>
<path d="M503.5 556 V580" stroke="#e8a82b" stroke-width="1.4" fill="none"/>
<polygon points="484.2,531.1 494.2,537.3 494.2,554.4 484.2,549.8" fill="#a8a39b"/>
<polygon points="494.2,537.3 505.4,530.2 505.4,549.8 494.2,554.4" fill="#d2cdc5"/>
<polygon points="484.2,531.1 495.1,524.9 505.4,530.2 494.2,537.3" fill="#bfbab2"/>
<polygon points="490.5,530.5 495.3,527.8 500.0,530.3 495.0,533.2" fill="#e9e9e7"/></g>
<g><polygon points="473.3,584.0 495.1,594.9 495.1,605.8 473.3,594.9" fill="#b7a58c"/>
<polygon points="495.1,594.9 515.3,584.6 515.3,594.9 495.1,605.8" fill="#cdbda4"/>
<polygon points="477.0,590.0 491.5,597.0 491.5,604.0 477.0,597.0" fill="#8d8372"/>
<polygon points="498.5,597.0 512.0,590.0 512.0,596.5 498.5,604.0" fill="#a39884"/>
<polygon points="473.3,573.1 495.1,585.6 495.1,594.9 473.3,584.0" fill="#cf6c58"/>
<polygon points="495.1,585.6 515.3,574.7 515.3,584.6 495.1,594.9" fill="#e4826b"/>
<polygon points="473.3,573.1 493.6,562.2 515.3,574.7 495.1,585.6" fill="#d9a07a"/>
<polygon points="500.0,587.0 502.5,585.7 502.5,590.0 500.0,591.3" fill="#5a2f2a"/>
<polygon points="505.0,584.5 507.5,583.2 507.5,587.5 505.0,588.8" fill="#5a2f2a"/>
<path d="M481.2 549.8 L481.2 576.2 A13.2 6.5 0 0 0 507.6 576.2 L507.6 549.8 Z" fill="#bd5d54"/>
<path d="M481.2 549.8 L481.2 576.2 A13.2 6.5 0 0 0 491 582.2 L491 549.8 Z" fill="#a54c45"/>
<path d="M498 549.8 L498 582.4 A13.2 6.5 0 0 0 507.6 576.2 L507.6 549.8 Z" fill="#cf7266"/>
<ellipse cx="494.4" cy="549.8" rx="13.2" ry="6.5" fill="#cf7a5a"/>
<path d="M481.2 551.5 A13.2 6.5 0 0 0 507.6 551.5" stroke="#e8a82b" stroke-width="1.6" fill="none"/>
<path d="M503.5 556 V580" stroke="#e8a82b" stroke-width="1.4" fill="none"/>
<polygon points="484.2,531.1 494.2,537.3 494.2,554.4 484.2,549.8" fill="#a8a39b"/>
<polygon points="494.2,537.3 505.4,530.2 505.4,549.8 494.2,554.4" fill="#d2cdc5"/>
<polygon points="484.2,531.1 495.1,524.9 505.4,530.2 494.2,537.3" fill="#bfbab2"/>
<polygon points="490.5,530.5 495.3,527.8 500.0,530.3 495.0,533.2" fill="#e9e9e7"/></g>

<!-- 80_bottom.svg -->
<!-- bottom-left value added -->
<rect x="23.3" y="561" width="258.4" height="50.8" fill="#fff"/>
<text class="g" x="56.7" y="582.7" font-size="15.4" textLength="44" lengthAdjust="spacingAndGlyphs">13 - 67</text>
<text class="g" x="54.3" y="599" font-size="15.4" textLength="53" lengthAdjust="spacingAndGlyphs">m EUR/a</text>
<rect x="133.6" y="570.7" width="1" height="30" fill="#4fa62f"/>
<text class="b" x="143.3" y="582.7" font-size="16.5" stroke="#000" stroke-width="0.35" textLength="83.4" lengthAdjust="spacingAndGlyphs">Value Added</text>
<text class="b" x="143.3" y="598.3" font-size="12.6" fill="#1b2c50" textLength="127.4" lengthAdjust="spacingAndGlyphs">in the domestic economy</text>
<text class="b" x="80" y="636.7" font-size="12.4" fill="#1b2c50" textLength="188.3" lengthAdjust="spacingAndGlyphs">Value Added as Share of Annual Costs</text>
<g fill="#1b2c50">
<rect x="42.8" y="643.3" width="1" height="32"/><rect x="86.2" y="643.3" width="1" height="32"/><rect x="130.2" y="643.3" width="1" height="32"/><rect x="173.5" y="643.3" width="1" height="32"/><rect x="216.8" y="643.3" width="1" height="32"/><rect x="260.2" y="643.3" width="1" height="32"/>
<rect x="43.3" y="648.3" width="150" height="8.6"/>
<rect x="43.3" y="669" width="25.7" height="8"/>
</g>
<rect x="43.3" y="648.8" width="174" height="7.6" fill="none" stroke="#1b2c50" stroke-width="1"/>
<rect x="43.3" y="669.5" width="43.4" height="8" fill="none" stroke="#1b2c50" stroke-width="1"/>
<text class="b" x="23.3" y="654" font-size="8" fill="#1b2c50" textLength="16" lengthAdjust="spacingAndGlyphs">High</text>
<text class="b" x="24" y="674" font-size="8" fill="#1b2c50" textLength="13.7" lengthAdjust="spacingAndGlyphs">Low</text>
<!-- bottom-right boxes -->
<rect x="936" y="590.7" width="125.7" height="52" fill="#fff"/>
<text class="b" x="965.7" y="611" font-size="16.5" stroke="#000" stroke-width="0.35" textLength="66.6" lengthAdjust="spacingAndGlyphs">New Jobs</text>
<text class="g" x="968.3" y="631.8" font-size="17" textLength="60" lengthAdjust="spacingAndGlyphs">180 - 590</text>
<rect x="831.7" y="651.7" width="161.6" height="30" fill="#fff"/>
<text class="b" x="849" y="672.3" font-size="16.5" stroke="#000" stroke-width="0.35" textLength="127" lengthAdjust="spacingAndGlyphs">Emissions avoided</text>

<!-- 85_icons.svg -->
<!-- chart icon bottom-left -->
<g>
<polygon points="49.3,524.4 66.7,517.8 124.4,538.9 124.4,543 102.2,559.6 49.3,529.4" fill="#cfd6db"/>
<polygon points="49.3,524.4 66.7,517.8 124.4,538.9 102.2,555.6" fill="#eef2f4"/>
<polygon points="68.5,535.2 85.5,528.7 85.5,539 76,545.5 68.5,541" fill="#3b6fc4"/>
<polygon points="68.5,535.2 85.5,528.7 90,531 74,538.5" fill="#5b8fdc"/>
<polygon points="102.2,545 118,535 121,537.5 103,550" fill="#bfe3e8"/>
<!-- bars -->
<path d="M59.6 527 V490.5 A5.2 5.2 0 0 1 70 490.5 V529 Z" fill="#f08a4b"/>
<path d="M69.3 529 V486.8 A5 5 0 0 1 79.3 486.8 V531 Z" fill="#1f9fc4"/>
<path d="M78.9 531 V476 A5 5 0 0 1 88.9 476 V534 Z" fill="#1fb5a8"/>
<path d="M88.4 534 V467 A5.2 5.2 0 0 1 98.9 467 V538 Z" fill="#fcc419"/>
<path d="M98.4 538 V452.5 A6.8 6.8 0 0 1 109 447 L114.4 452 V541.5 L106 543 Z" fill="#ef5b50"/>
<path d="M108 446.5 Q114.4 447 114.4 453 V541.5 L108 543 Z" fill="#d63a30"/>
<!-- arrow -->
<polygon points="58.2,477.5 89,447.5 86,444.3 97.8,442.2 96.5,454.5 93,451.3 60,485" fill="#fbc02d"/>
<polygon points="58.2,477.5 60,485 93,451.3 91.5,450" fill="#e09d10" opacity="0.35"/>
<!-- coins -->
<g fill="#f3b23c" stroke="#d9912a" stroke-width="0.5">
<ellipse cx="65.6" cy="530" rx="8.3" ry="4"/><ellipse cx="66" cy="527" rx="8.3" ry="4"/><ellipse cx="65.4" cy="524" rx="8.3" ry="4"/><ellipse cx="66" cy="521" rx="8.3" ry="4"/><ellipse cx="65.4" cy="518" rx="8.3" ry="4"/><ellipse cx="65.8" cy="515" rx="8.3" ry="4"/><ellipse cx="65.2" cy="512.4" rx="8.3" ry="4"/>
<ellipse cx="94.4" cy="544" rx="9" ry="4.3"/><ellipse cx="94.8" cy="541" rx="9" ry="4.3"/><ellipse cx="94.2" cy="538" rx="9" ry="4.3"/><ellipse cx="94.8" cy="535" rx="9" ry="4.3"/><ellipse cx="94.2" cy="532" rx="9" ry="4.3"/><ellipse cx="94.8" cy="529" rx="9" ry="4.3"/><ellipse cx="94.2" cy="526" rx="9" ry="4.3"/><ellipse cx="94.8" cy="523" rx="9" ry="4.3"/><ellipse cx="94.2" cy="520" rx="9" ry="4.3"/><ellipse cx="94.8" cy="517" rx="9" ry="4.3"/><ellipse cx="94" cy="514" rx="9" ry="4.3"/><ellipse cx="94.4" cy="511.5" rx="9" ry="4.3"/>
</g>
<!-- man -->
<path d="M27 494 L26.5 512 L30 518 L33 518 L32 508 L35 517 L38.5 517 L38 494 Z" fill="#2b2326"/>
<path d="M22.5 481 Q22 476 27 475 L35 475 Q38 476 38.5 480 L46 488 L47.5 490 L45 491 L38 487 L38 495 L27 495 L26 488 L23 490 Z" fill="#f2f1ef"/>
<circle cx="31.3" cy="471.5" r="3.3" fill="#f2c7a5"/><path d="M27.8 471 Q28 467 32 467.5 Q35 468 34.6 470.5 L31 469.5 Z" fill="#2b2326"/>
<rect x="25.5" y="487" width="6.5" height="5" fill="#3b7fd4" transform="rotate(25 28 489)"/>
<!-- woman -->
<path d="M25.5 521 L26 540 L28 551 L31 551 L31 540 L34 527 L36 540 L33 552 L36 553 L39 540 L38 521 Z" fill="#2b2326"/>
<path d="M24 508 Q24 505 28 505 L34 506 L41 514 L40 517 L37.5 516 L38 522 L25.5 522 Z" fill="#f2f1ef"/>
<circle cx="29.5" cy="502" r="3.1" fill="#f2c7a5"/>
<path d="M17.5 505 Q18 498 24 499 Q27 496 31.5 498 L32.5 500.5 L27 501 Q26 506 21 508 Q18 508 17.5 505Z" fill="#e8452f"/>
<polygon points="36.5,508.5 43.5,504.5 46.8,507.5 42,522.5 38.5,520.5" fill="#f5f6f7"/>
</g>
<!-- CO2 chimneys -->
<g>
<defs>
<clipPath id="ch1"><polygon points="752.3,590.7 764.7,590.7 767.5,680 750,680"/></clipPath>
<clipPath id="ch2"><polygon points="781.2,577.8 794,577.8 796.5,672 779,672"/></clipPath>
<clipPath id="ch3"><polygon points="810.5,561.7 823.3,561.7 826,655.6 808.3,655.6"/></clipPath>
</defs>
<ellipse cx="817.2" cy="655.6" rx="9.3" ry="2.6" fill="#cdb8a3"/>
<ellipse cx="787.7" cy="672" rx="9.3" ry="2.6" fill="#cdb8a3"/>
<g clip-path="url(#ch3)">
<rect x="805" y="560" width="24" height="100" fill="#b79c84"/>
<rect x="805" y="560" width="24" height="54" fill="#efe9e6"/>
<rect x="805" y="577.8" width="24" height="9.1" fill="#e0714f"/><rect x="805" y="595.9" width="24" height="9.1" fill="#e0714f"/>
<rect x="805" y="560" width="7" height="100" fill="#000" opacity="0.1"/>
</g>
<g clip-path="url(#ch2)">
<rect x="776" y="576" width="24" height="100" fill="#b79c84"/>
<rect x="776" y="576" width="24" height="53.6" fill="#efe9e6"/>
<rect x="776" y="594.6" width="24" height="9.1" fill="#e0714f"/><rect x="776" y="612.8" width="24" height="9.1" fill="#e0714f"/>
<rect x="776" y="576" width="7" height="100" fill="#000" opacity="0.1"/>
</g>
<g clip-path="url(#ch1)">
<rect x="747" y="589" width="24" height="100" fill="#b79c84"/>
<rect x="747" y="589" width="24" height="55" fill="#efe9e6"/>
<rect x="747" y="607.6" width="24" height="8" fill="#e0714f"/><rect x="747" y="624.4" width="24" height="9.1" fill="#e0714f"/>
<rect x="747" y="589" width="7" height="100" fill="#000" opacity="0.1"/>
</g>
<ellipse cx="758.5" cy="590.9" rx="6.2" ry="1.9" fill="#d9d2ce"/><ellipse cx="787.6" cy="578" rx="6.4" ry="1.9" fill="#d9d2ce"/><ellipse cx="816.9" cy="561.9" rx="6.4" ry="1.9" fill="#d9d2ce"/>
<!-- smoke -->
<g fill="#9c9c9c" opacity="0.93">
<circle cx="824" cy="528" r="13"/><circle cx="833" cy="524" r="8"/><circle cx="819" cy="519" r="9"/><circle cx="830" cy="540" r="8"/><circle cx="818" cy="548" r="9.5"/><circle cx="814" cy="538" r="8"/>
</g>
<g fill="#8c8c8c" opacity="0.95">
<circle cx="787" cy="540" r="17"/><circle cx="771" cy="540" r="11"/><circle cx="799" cy="524" r="11"/><circle cx="803" cy="540" r="11"/><circle cx="789" cy="560" r="11"/><circle cx="787" cy="571" r="7"/><circle cx="777" cy="527" r="8"/><circle cx="808" cy="532" r="8"/>
</g>
<g fill="#a3a3a3" opacity="0.95">
<circle cx="759" cy="563" r="13"/><circle cx="748" cy="560" r="8"/><circle cx="769" cy="556" r="8"/><circle cx="762" cy="550" r="7"/><circle cx="752" cy="551" r="6"/><circle cx="760" cy="578" r="8.5"/><circle cx="769" cy="570" r="7"/><circle cx="750" cy="572" r="6"/>
</g>
<g font-weight="bold" fill="#cfcfcf" stroke="#cfcfcf" stroke-width="0.4">
<text x="747.5" y="568" font-size="14.5" textLength="20" lengthAdjust="spacingAndGlyphs">CO</text><text x="768" y="574.5" font-size="7.5">2</text>
<text x="772.5" y="547" font-size="14.5" textLength="20" lengthAdjust="spacingAndGlyphs" fill="#b9b9b9">CO</text><text x="794" y="553" font-size="7.5" fill="#b9b9b9">2</text>
<text x="812" y="538" font-size="14.5" textLength="20" lengthAdjust="spacingAndGlyphs">CO</text><text x="829.5" y="544.5" font-size="7.5">2</text>
</g>
<path d="M755.9 511.7 L790 546" stroke="#2b3050" stroke-width="3.8" opacity="0.85"/>
<path d="M788 544 L820.7 576.5" stroke="#b8323c" stroke-width="3.8" opacity="0.85"/>
<path d="M755.9 576.5 L822 511.7" stroke="#b8323c" stroke-width="3.8" opacity="0.85"/>
</g>
<!-- workers -->
<g>
<!-- machine -->
<polygon points="874.6,550.5 891.5,556.8 891.5,619.8 874.6,609.7" fill="#2aa0c2"/>
<polygon points="891.5,556.8 907.8,544.3 908.5,572 899,580 900,612 891.5,619.8" fill="#2288aa"/>
<polygon points="874.6,550.5 891.5,539.2 907.8,544.3 891.5,556.8" fill="#49bfdc"/>
<polygon points="889.7,556.5 897.8,551.3 897.8,562.5 889.7,567.5" fill="#1c2a22"/><polygon points="891,558 896.6,554.5 896.6,560.5 891,564" fill="#4fa83f"/>
<polygon points="899.5,552 902,550.3 902,561 899.5,562.7" fill="#d63a30"/>
<polygon points="891.5,569.5 909,559 909,564 891.5,575" fill="#f09a2a"/>
<polygon points="892,577.5 905,569.5 906,574 893,582" fill="#e6e6e6"/>
<!-- worker1 -->
<path d="M911 585 L912 621 L916 622 L919 597 L922 620 L926.5 618 L926 583 Z" fill="#3a6fc4"/>
<path d="M909 563 Q910 559.5 915 559.5 L924 560 Q931 563 933.5 570 L928 579 L925.5 577 L928 570 L925 568 L925 585 L911 586 L911 575 L901 581 L899.5 578 L908.5 570 Z" fill="#f09a2a"/>
<path d="M913.5 566 L913.5 586 L924 586 L924 566 L921.5 566 L921.5 574 L916 574 L916 566 Z" fill="#3a6fc4"/>
<circle cx="916.6" cy="553.5" r="4.3" fill="#eab893"/><path d="M912.5 553 Q912.5 548.5 917 548.6 Q921.5 549 921.2 553.5 L919 552 L915 551.5Z" fill="#6b3d22"/>
<ellipse cx="911" cy="622.3" rx="3.6" ry="1.4" fill="#6b3a22"/><ellipse cx="923" cy="619.5" rx="2.6" ry="1.6" fill="#6b3a22"/>
<circle cx="898" cy="579" r="2" fill="#222"/>
<!-- worker2 -->
<path d="M946 556 L945.5 580 L947.5 585.5 L951 585 L953 563 L956 575 L962 578 L964 575.5 L959 571 L960 555 Z" fill="#17181c"/>
<path d="M946 532 Q947 527.5 951 527 L958 527.5 L968 537 L966 540 L960.5 536.5 L961 557 L946 558 Z" fill="#1d1e23"/>
<polygon points="952,527.5 956,527.5 954.5,537" fill="#f2f2f2"/><polygon points="953.4,528.5 954.8,528.5 954.5,535" fill="#2f6fd0"/>
<circle cx="955.3" cy="523.3" r="3.6" fill="#eab893"/>
<path d="M949.6 521.5 Q950 514.5 956 515 Q961.5 516 961.8 522.5 L962.5 524 L955 521.5 L949.5 523 Z" fill="#e03a3a"/>
<polygon points="960,539.5 970.5,534.5 973.3,537.5 965.5,549.5" fill="#e9eaec"/>
<polygon points="960,539.5 962,538.5 967.5,548 965.5,549.5" fill="#7a4a2a"/>
<!-- worker3 kneeling on disk -->
<ellipse cx="997.2" cy="541.7" rx="12.8" ry="6.4" fill="#c9ccd4"/>
<path d="M989 516 Q990 511.5 995 512 L1001 514 L1010 521 L1009 523.5 L1003 521 L1004 530 L1008 541 L1003 545 L996 536 L991 545 L986.5 542 L989 530 Z" fill="#2b4fa8"/>
<circle cx="996.5" cy="508.5" r="3.4" fill="#eab893"/><path d="M992.5 507.5 Q993 502.5 997.5 503 Q1001 504 1000.5 507 L996 506.5 Z" fill="#2b4fa8"/>
<rect x="984.5" y="535" width="3.6" height="8" rx="1.6" fill="#3b7fd4"/>
<!-- worker4 standing -->
<ellipse cx="1034.5" cy="543.5" rx="7.5" ry="3.6" fill="#c9ccd4"/>
<path d="M1024.5 492 Q1025.5 487.5 1030.5 488 L1036 490 Q1038.5 494 1037.5 502 L1037 520 L1037.5 541 L1033 541.5 L1031.5 522 L1030.5 541 L1026.5 540 L1026 515 L1025 504 L1017 499 L1018 496.5 L1025 498.5 Z" fill="#2b4fa8"/>
<circle cx="1029.5" cy="484.8" r="3.2" fill="#eab893"/><path d="M1026 483.5 Q1026.5 479 1031 479.5 Q1034 480.5 1033.5 483.5 L1029 483Z" fill="#2b4fa8"/>
<ellipse cx="1035" cy="543" rx="2.6" ry="1.3" fill="#f09a2a"/>
<!-- cabinet -->
<polygon points="1008.5,536 1020,531 1032.5,536.5 1032.5,557 1021,563.5 1008.5,557.5" fill="#6fb0e6"/>
<polygon points="1008.5,536 1021,541.5 1021,563.5 1008.5,557.5" fill="#5b9fdc"/>
<polygon points="1021,541.5 1032.5,536.5 1032.5,557 1021,563.5" fill="#84c0ee"/>
<polygon points="1008.5,536 1020,531 1032.5,536.5 1021,541.5" fill="#a9d6f5"/>
<polygon points="1014.5,546 1018.5,554 1011,551" fill="#f0b429"/>
<path d="M1019 504 Q1014 515 1018 531" stroke="#2a7a5a" stroke-width="0.8" fill="none"/><path d="M1007 521 Q1012 530 1019 531" stroke="#2a7a5a" stroke-width="0.8" fill="none"/>
</g>

<!-- 90_labels.svg -->
<g class="w b" font-size="11.4" stroke="#fff" stroke-width="0.4">
<text x="699" y="181" textLength="32.5" lengthAdjust="spacingAndGlyphs">30 - 60</text>
<text x="701.5" y="194.5" textLength="27.5" lengthAdjust="spacingAndGlyphs">Buses</text>
<text x="791.5" y="236" textLength="21.0" lengthAdjust="spacingAndGlyphs">1 - 6</text>
<text x="788.5" y="248.5" textLength="26.5" lengthAdjust="spacingAndGlyphs">Trains</text>
<text x="959" y="292.5" textLength="92.0" lengthAdjust="spacingAndGlyphs">Electricity Produced</text>
<text x="582.7" y="287.7" textLength="32.3" lengthAdjust="spacingAndGlyphs">17 - 34</text>
<text x="555.7" y="300.3" textLength="86.0" lengthAdjust="spacingAndGlyphs">Refuelling Stations</text>
<text x="648.3" y="326.7" textLength="52.4" lengthAdjust="spacingAndGlyphs">530 - 1 070</text>
<text x="660.7" y="340" textLength="28.6" lengthAdjust="spacingAndGlyphs">Trucks</text>
<text x="538.3" y="432.3" textLength="52.4" lengthAdjust="spacingAndGlyphs">230 - 1 000</text>
<text x="527.7" y="445.7" textLength="73.3" lengthAdjust="spacingAndGlyphs">Micro-CHP units</text>
<text x="538.3" y="459" textLength="52.7" lengthAdjust="spacingAndGlyphs">in buildings</text>
<text x="486" y="486.7" textLength="49.7" lengthAdjust="spacingAndGlyphs">0 - 0.3 kt/a</text>
<text x="482.3" y="500" textLength="57.7" lengthAdjust="spacingAndGlyphs">of Aromatics</text>
<text x="505" y="630" textLength="54.0" lengthAdjust="spacingAndGlyphs">of Ammonia</text>
<text x="701" y="475.5" textLength="26.5" lengthAdjust="spacingAndGlyphs">0 - 30</text>
<text x="673" y="489" textLength="83.0" lengthAdjust="spacingAndGlyphs">Commercial-scale</text>
<text x="676" y="502" textLength="76.5" lengthAdjust="spacingAndGlyphs">CHP Installations</text>
<text x="729.3" y="370.7" textLength="67.4" lengthAdjust="spacingAndGlyphs">8 400 - 16 800</text>
<text x="752.7" y="384" textLength="20.0" lengthAdjust="spacingAndGlyphs">Cars</text>
<text x="922.7" y="392.7" textLength="59.0" lengthAdjust="spacingAndGlyphs">5 - 46 GWh/a</text>
<text x="907.3" y="406" textLength="90.0" lengthAdjust="spacingAndGlyphs">into Synthetic Fuels</text>
<text x="229.3" y="521.7" textLength="56.7" lengthAdjust="spacingAndGlyphs">in Refineries</text>
<text x="957.5" y="280" textLength="78.0" lengthAdjust="spacingAndGlyphs">280 - 2 800 MWh</text>
<text x="1035.5" y="282.6" font-size="5.5" textLength="6.0" lengthAdjust="spacingAndGlyphs">H2</text>
<text x="1041.5" y="280" textLength="11.0" lengthAdjust="spacingAndGlyphs">/a</text>
<text x="501.7" y="617.3" textLength="44.0" lengthAdjust="spacingAndGlyphs">0 - 19.4 kt</text>
<text x="545.7" y="619.9" font-size="5.5" textLength="3.5" lengthAdjust="spacingAndGlyphs">N</text>
<text x="549.2" y="617.3" textLength="12.5" lengthAdjust="spacingAndGlyphs">/a</text>
<text x="227.3" y="508.3" textLength="44.0" lengthAdjust="spacingAndGlyphs">3 - 5 GWh</text>
<text x="271.3" y="510.90000000000003" font-size="5.5" textLength="6.0" lengthAdjust="spacingAndGlyphs">H2</text>
<text x="277.3" y="508.3" textLength="10.0" lengthAdjust="spacingAndGlyphs">/a</text>
</g>

</svg>
</body></html>
